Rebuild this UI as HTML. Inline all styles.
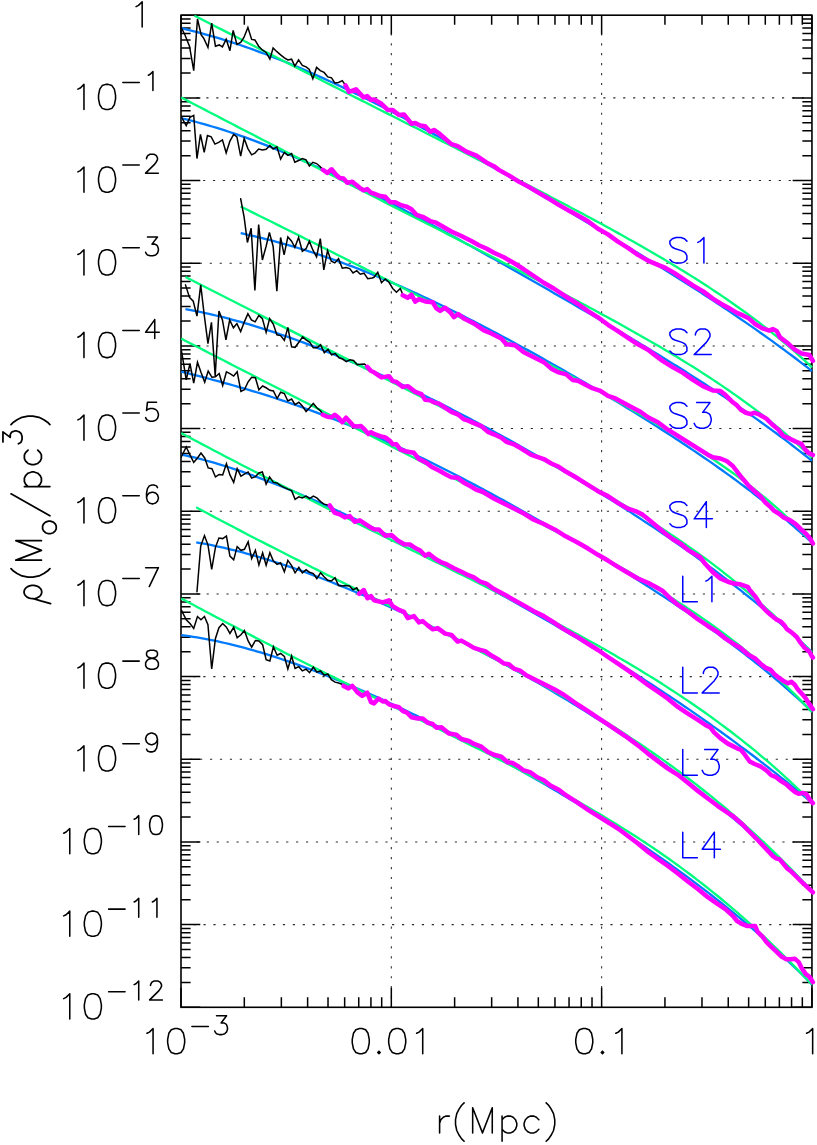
<!DOCTYPE html><html><head><meta charset="utf-8"><title>density profiles</title>
<style>html,body{margin:0;padding:0;background:#fff;font-family:"Liberation Sans",sans-serif}svg{display:block}</style></head><body>
<svg width="817" height="1145" viewBox="0 0 817 1145">
<rect width="817" height="1145" fill="#fff"/>
<path d="M196.39 97.88 H811.95M193.13 180.55 H811.95M189.86 263.22 H811.95M196.53 345.9 H811.95M193.26 428.57 H811.95M190 511.25 H811.95M196.67 593.93 H811.95M193.4 676.6 H811.95M190.14 759.27 H811.95M196.8 841.95 H811.95M193.54 924.62 H811.95M391.32 33.27 V1007.3M601.63 33.27 V1007.3" fill="none" stroke="#2a2a2a" stroke-width="1.05" stroke-dasharray="2.2 7.725"/>
<path d="M181 15.2 h19.3 M811.95 15.2 h-19.3M181 72.99 h9.6 M811.95 72.99 h-9.6M181 58.43 h9.6 M811.95 58.43 h-9.6M181 48.1 h9.6 M811.95 48.1 h-9.6M181 40.09 h9.6 M811.95 40.09 h-9.6M181 33.54 h9.6 M811.95 33.54 h-9.6M181 28.01 h9.6 M811.95 28.01 h-9.6M181 23.21 h9.6 M811.95 23.21 h-9.6M181 18.98 h9.6 M811.95 18.98 h-9.6M181 97.88 h19.3 M811.95 97.88 h-19.3M181 155.66 h9.6 M811.95 155.66 h-9.6M181 141.1 h9.6 M811.95 141.1 h-9.6M181 130.77 h9.6 M811.95 130.77 h-9.6M181 122.76 h9.6 M811.95 122.76 h-9.6M181 116.22 h9.6 M811.95 116.22 h-9.6M181 110.68 h9.6 M811.95 110.68 h-9.6M181 105.89 h9.6 M811.95 105.89 h-9.6M181 101.66 h9.6 M811.95 101.66 h-9.6M181 180.55 h19.3 M811.95 180.55 h-19.3M181 238.34 h9.6 M811.95 238.34 h-9.6M181 223.78 h9.6 M811.95 223.78 h-9.6M181 213.45 h9.6 M811.95 213.45 h-9.6M181 205.44 h9.6 M811.95 205.44 h-9.6M181 198.89 h9.6 M811.95 198.89 h-9.6M181 193.36 h9.6 M811.95 193.36 h-9.6M181 188.56 h9.6 M811.95 188.56 h-9.6M181 184.33 h9.6 M811.95 184.33 h-9.6M181 263.22 h19.3 M811.95 263.22 h-19.3M181 321.01 h9.6 M811.95 321.01 h-9.6M181 306.45 h9.6 M811.95 306.45 h-9.6M181 296.12 h9.6 M811.95 296.12 h-9.6M181 288.11 h9.6 M811.95 288.11 h-9.6M181 281.57 h9.6 M811.95 281.57 h-9.6M181 276.03 h9.6 M811.95 276.03 h-9.6M181 271.24 h9.6 M811.95 271.24 h-9.6M181 267.01 h9.6 M811.95 267.01 h-9.6M181 345.9 h19.3 M811.95 345.9 h-19.3M181 403.69 h9.6 M811.95 403.69 h-9.6M181 389.13 h9.6 M811.95 389.13 h-9.6M181 378.8 h9.6 M811.95 378.8 h-9.6M181 370.79 h9.6 M811.95 370.79 h-9.6M181 364.24 h9.6 M811.95 364.24 h-9.6M181 358.71 h9.6 M811.95 358.71 h-9.6M181 353.91 h9.6 M811.95 353.91 h-9.6M181 349.68 h9.6 M811.95 349.68 h-9.6M181 428.57 h19.3 M811.95 428.57 h-19.3M181 486.36 h9.6 M811.95 486.36 h-9.6M181 471.8 h9.6 M811.95 471.8 h-9.6M181 461.47 h9.6 M811.95 461.47 h-9.6M181 453.46 h9.6 M811.95 453.46 h-9.6M181 446.92 h9.6 M811.95 446.92 h-9.6M181 441.38 h9.6 M811.95 441.38 h-9.6M181 436.59 h9.6 M811.95 436.59 h-9.6M181 432.36 h9.6 M811.95 432.36 h-9.6M181 511.25 h19.3 M811.95 511.25 h-19.3M181 569.04 h9.6 M811.95 569.04 h-9.6M181 554.48 h9.6 M811.95 554.48 h-9.6M181 544.15 h9.6 M811.95 544.15 h-9.6M181 536.14 h9.6 M811.95 536.14 h-9.6M181 529.59 h9.6 M811.95 529.59 h-9.6M181 524.06 h9.6 M811.95 524.06 h-9.6M181 519.26 h9.6 M811.95 519.26 h-9.6M181 515.03 h9.6 M811.95 515.03 h-9.6M181 593.93 h19.3 M811.95 593.93 h-19.3M181 651.71 h9.6 M811.95 651.71 h-9.6M181 637.15 h9.6 M811.95 637.15 h-9.6M181 626.82 h9.6 M811.95 626.82 h-9.6M181 618.81 h9.6 M811.95 618.81 h-9.6M181 612.27 h9.6 M811.95 612.27 h-9.6M181 606.73 h9.6 M811.95 606.73 h-9.6M181 601.94 h9.6 M811.95 601.94 h-9.6M181 597.71 h9.6 M811.95 597.71 h-9.6M181 676.6 h19.3 M811.95 676.6 h-19.3M181 734.39 h9.6 M811.95 734.39 h-9.6M181 719.83 h9.6 M811.95 719.83 h-9.6M181 709.5 h9.6 M811.95 709.5 h-9.6M181 701.49 h9.6 M811.95 701.49 h-9.6M181 694.94 h9.6 M811.95 694.94 h-9.6M181 689.41 h9.6 M811.95 689.41 h-9.6M181 684.61 h9.6 M811.95 684.61 h-9.6M181 680.38 h9.6 M811.95 680.38 h-9.6M181 759.27 h19.3 M811.95 759.27 h-19.3M181 817.06 h9.6 M811.95 817.06 h-9.6M181 802.5 h9.6 M811.95 802.5 h-9.6M181 792.17 h9.6 M811.95 792.17 h-9.6M181 784.16 h9.6 M811.95 784.16 h-9.6M181 777.62 h9.6 M811.95 777.62 h-9.6M181 772.08 h9.6 M811.95 772.08 h-9.6M181 767.29 h9.6 M811.95 767.29 h-9.6M181 763.06 h9.6 M811.95 763.06 h-9.6M181 841.95 h19.3 M811.95 841.95 h-19.3M181 899.74 h9.6 M811.95 899.74 h-9.6M181 885.18 h9.6 M811.95 885.18 h-9.6M181 874.85 h9.6 M811.95 874.85 h-9.6M181 866.84 h9.6 M811.95 866.84 h-9.6M181 860.29 h9.6 M811.95 860.29 h-9.6M181 854.76 h9.6 M811.95 854.76 h-9.6M181 849.96 h9.6 M811.95 849.96 h-9.6M181 845.73 h9.6 M811.95 845.73 h-9.6M181 924.62 h19.3 M811.95 924.62 h-19.3M181 982.41 h9.6 M811.95 982.41 h-9.6M181 967.85 h9.6 M811.95 967.85 h-9.6M181 957.52 h9.6 M811.95 957.52 h-9.6M181 949.51 h9.6 M811.95 949.51 h-9.6M181 942.97 h9.6 M811.95 942.97 h-9.6M181 937.43 h9.6 M811.95 937.43 h-9.6M181 932.64 h9.6 M811.95 932.64 h-9.6M181 928.41 h9.6 M811.95 928.41 h-9.6M181 1007.3 h19.3 M811.95 1007.3 h-19.3M181 1007.3 v-19.6 M181 15.2 v19.4M244.31 1007.3 v-10 M244.31 15.2 v9.5M281.35 1007.3 v-10 M281.35 15.2 v9.5M307.62 1007.3 v-10 M307.62 15.2 v9.5M328.01 1007.3 v-10 M328.01 15.2 v9.5M344.66 1007.3 v-10 M344.66 15.2 v9.5M358.74 1007.3 v-10 M358.74 15.2 v9.5M370.93 1007.3 v-10 M370.93 15.2 v9.5M381.69 1007.3 v-10 M381.69 15.2 v9.5M391.32 1007.3 v-19.6 M391.32 15.2 v19.4M454.63 1007.3 v-10 M454.63 15.2 v9.5M491.66 1007.3 v-10 M491.66 15.2 v9.5M517.94 1007.3 v-10 M517.94 15.2 v9.5M538.32 1007.3 v-10 M538.32 15.2 v9.5M554.97 1007.3 v-10 M554.97 15.2 v9.5M569.05 1007.3 v-10 M569.05 15.2 v9.5M581.25 1007.3 v-10 M581.25 15.2 v9.5M592.01 1007.3 v-10 M592.01 15.2 v9.5M601.63 1007.3 v-19.6 M601.63 15.2 v19.4M664.94 1007.3 v-10 M664.94 15.2 v9.5M701.98 1007.3 v-10 M701.98 15.2 v9.5M728.26 1007.3 v-10 M728.26 15.2 v9.5M748.64 1007.3 v-10 M748.64 15.2 v9.5M765.29 1007.3 v-10 M765.29 15.2 v9.5M779.37 1007.3 v-10 M779.37 15.2 v9.5M791.57 1007.3 v-10 M791.57 15.2 v9.5M802.33 1007.3 v-10 M802.33 15.2 v9.5M811.95 1007.3 v-19.6 M811.95 15.2 v19.4" fill="none" stroke="#000" stroke-width="1.5"/>
<rect x="181" y="15.2" width="630.95" height="992.1" fill="none" stroke="#000" stroke-width="1.6"/>
<clipPath id="c"><rect x="181" y="15.2" width="634.95" height="992.1"/></clipPath>
<g clip-path="url(#c)" fill="none" stroke-linejoin="round" stroke-linecap="round">
<path d="M181.24 28.24 L185.2 29.17 L189.17 30.13 L193.14 31.12 L197.1 32.14 L201.07 33.19 L205.04 34.27 L209 35.38 L212.97 36.52 L216.94 37.69 L220.9 38.88 L224.87 40.11 L228.84 41.36 L232.8 42.63 L236.77 43.94 L240.74 45.27 L244.7 46.63 L248.67 48.01 L252.64 49.42 L256.6 50.85 L260.57 52.31 L264.54 53.79 L268.5 55.29 L272.47 56.82 L276.44 58.37 L280.4 59.95 L284.37 61.54 L288.34 63.16 L292.31 64.8 L296.27 66.46 L300.24 68.14 L304.21 69.84 L308.17 71.56 L312.14 73.3 L316.11 75.06 L320.07 76.83 L324.04 78.63 L328.01 80.44 L331.97 82.28 L335.94 84.12 L339.91 85.99 L343.87 87.87 L347.84 89.77 L351.81 91.68 L355.77 93.61 L359.74 95.55 L363.71 97.51 L367.67 99.49 L371.64 101.47 L375.61 103.47 L379.57 105.49 L383.54 107.51 L387.51 109.55 L391.47 111.6 L395.44 113.66 L399.41 115.74 L403.37 117.82 L407.34 119.92 L411.31 122.03 L415.27 124.14 L419.24 126.27 L423.21 128.41 L427.17 130.55 L431.14 132.71 L435.11 134.88 L439.08 137.05 L443.04 139.23 L447.01 141.42 L450.98 143.62 L454.94 145.82 L458.91 148.03 L462.88 150.25 L466.84 152.48 L470.81 154.71 L474.78 156.95 L478.74 159.2 L482.71 161.45 L486.68 163.7 L490.64 165.97 L494.61 168.24 L498.58 170.51 L502.54 172.79 L506.51 175.07 L510.48 177.36 L514.44 179.65 L518.41 181.95 L522.38 184.25 L526.34 186.56 L530.31 188.87 L534.28 191.19 L538.24 193.5 L542.21 195.83 L546.18 198.16 L550.14 200.49 L554.11 202.82 L558.08 205.16 L562.04 207.5 L566.01 209.85 L569.98 212.2 L573.94 214.55 L577.91 216.91 L581.88 219.27 L585.84 221.64 L589.81 224.01 L593.78 226.39 L597.75 228.76 L601.71 231.15 L605.68 233.53 L609.65 235.92 L613.61 238.32 L617.58 240.72 L621.55 243.13 L625.51 245.54 L629.48 247.95 L633.45 250.38 L637.41 252.8 L641.38 255.24 L645.35 257.68 L649.31 260.12 L653.28 262.57 L657.25 265.03 L661.21 267.5 L665.18 269.98 L669.15 272.46 L673.11 274.95 L677.08 277.45 L681.05 279.95 L685.01 282.47 L688.98 285 L692.95 287.54 L696.91 290.08 L700.88 292.64 L704.85 295.21 L708.81 297.79 L712.78 300.39 L716.75 303 L720.71 305.62 L724.68 308.25 L728.65 310.9 L732.61 313.57 L736.58 316.25 L740.55 318.94 L744.52 321.66 L748.48 324.39 L752.45 327.14 L756.42 329.9 L760.38 332.69 L764.35 335.5 L768.32 338.33 L772.28 341.18 L776.25 344.06 L780.22 346.95 L784.18 349.88 L788.15 352.82 L792.12 355.79 L796.08 358.79 L800.05 361.82 L804.02 364.88 L807.98 367.96 L811.95 371.08M181.24 118.31 L185.2 119.24 L189.17 120.21 L193.14 121.22 L197.1 122.26 L201.07 123.33 L205.04 124.44 L209 125.58 L212.97 126.75 L216.94 127.95 L220.9 129.19 L224.87 130.45 L228.84 131.74 L232.8 133.06 L236.77 134.41 L240.74 135.79 L244.7 137.2 L248.67 138.63 L252.64 140.08 L256.6 141.57 L260.57 143.07 L264.54 144.6 L268.5 146.16 L272.47 147.74 L276.44 149.34 L280.4 150.96 L284.37 152.6 L288.34 154.27 L292.31 155.96 L296.27 157.66 L300.24 159.39 L304.21 161.13 L308.17 162.89 L312.14 164.68 L316.11 166.47 L320.07 168.29 L324.04 170.12 L328.01 171.97 L331.97 173.84 L335.94 175.72 L339.91 177.61 L343.87 179.52 L347.84 181.44 L351.81 183.38 L355.77 185.33 L359.74 187.29 L363.71 189.27 L367.67 191.26 L371.64 193.26 L375.61 195.27 L379.57 197.29 L383.54 199.32 L387.51 201.36 L391.47 203.42 L395.44 205.48 L399.41 207.55 L403.37 209.63 L407.34 211.72 L411.31 213.82 L415.27 215.92 L419.24 218.04 L423.21 220.16 L427.17 222.29 L431.14 224.42 L435.11 226.56 L439.08 228.71 L443.04 230.87 L447.01 233.03 L450.98 235.19 L454.94 237.37 L458.91 239.55 L462.88 241.73 L466.84 243.92 L470.81 246.11 L474.78 248.31 L478.74 250.51 L482.71 252.72 L486.68 254.93 L490.64 257.15 L494.61 259.37 L498.58 261.59 L502.54 263.82 L506.51 266.05 L510.48 268.29 L514.44 270.53 L518.41 272.77 L522.38 275.02 L526.34 277.27 L530.31 279.53 L534.28 281.79 L538.24 284.05 L542.21 286.31 L546.18 288.58 L550.14 290.86 L554.11 293.13 L558.08 295.41 L562.04 297.7 L566.01 299.99 L569.98 302.28 L573.94 304.58 L577.91 306.88 L581.88 309.18 L585.84 311.49 L589.81 313.81 L593.78 316.13 L597.75 318.45 L601.71 320.78 L605.68 323.11 L609.65 325.46 L613.61 327.8 L617.58 330.15 L621.55 332.51 L625.51 334.88 L629.48 337.25 L633.45 339.63 L637.41 342.01 L641.38 344.41 L645.35 346.81 L649.31 349.22 L653.28 351.64 L657.25 354.06 L661.21 356.5 L665.18 358.95 L669.15 361.4 L673.11 363.87 L677.08 366.35 L681.05 368.83 L685.01 371.33 L688.98 373.85 L692.95 376.37 L696.91 378.91 L700.88 381.46 L704.85 384.03 L708.81 386.61 L712.78 389.2 L716.75 391.82 L720.71 394.44 L724.68 397.09 L728.65 399.75 L732.61 402.43 L736.58 405.13 L740.55 407.84 L744.52 410.58 L748.48 413.34 L752.45 416.12 L756.42 418.92 L760.38 421.74 L764.35 424.59 L768.32 427.46 L772.28 430.36 L776.25 433.28 L780.22 436.23 L784.18 439.2 L788.15 442.2 L792.12 445.23 L796.08 448.3 L800.05 451.39 L804.02 454.51 L807.98 457.66 L811.95 460.85M240.66 233.18 L244.25 233.96 L247.85 234.76 L251.44 235.58 L255.03 236.42 L258.63 237.28 L262.22 238.16 L265.81 239.06 L269.41 239.98 L273 240.91 L276.59 241.87 L280.18 242.85 L283.78 243.84 L287.37 244.86 L290.96 245.9 L294.56 246.95 L298.15 248.02 L301.74 249.12 L305.34 250.23 L308.93 251.36 L312.52 252.52 L316.11 253.69 L319.71 254.88 L323.3 256.08 L326.89 257.31 L330.49 258.56 L334.08 259.82 L337.67 261.1 L341.27 262.4 L344.86 263.72 L348.45 265.06 L352.04 266.41 L355.64 267.79 L359.23 269.18 L362.82 270.58 L366.42 272.01 L370.01 273.45 L373.6 274.9 L377.2 276.38 L380.79 277.87 L384.38 279.37 L387.98 280.9 L391.57 282.43 L395.16 283.99 L398.75 285.56 L402.35 287.14 L405.94 288.74 L409.53 290.35 L413.13 291.98 L416.72 293.62 L420.31 295.27 L423.91 296.94 L427.5 298.63 L431.09 300.32 L434.68 302.03 L438.28 303.75 L441.87 305.49 L445.46 307.23 L449.06 308.99 L452.65 310.76 L456.24 312.55 L459.84 314.34 L463.43 316.15 L467.02 317.96 L470.61 319.79 L474.21 321.63 L477.8 323.48 L481.39 325.34 L484.99 327.21 L488.58 329.09 L492.17 330.98 L495.77 332.87 L499.36 334.78 L502.95 336.7 L506.54 338.63 L510.14 340.56 L513.73 342.51 L517.32 344.46 L520.92 346.42 L524.51 348.39 L528.1 350.37 L531.7 352.36 L535.29 354.35 L538.88 356.35 L542.47 358.37 L546.07 360.38 L549.66 362.41 L553.25 364.44 L556.85 366.49 L560.44 368.53 L564.03 370.59 L567.63 372.66 L571.22 374.73 L574.81 376.81 L578.4 378.89 L582 380.99 L585.59 383.09 L589.18 385.2 L592.78 387.32 L596.37 389.44 L599.96 391.58 L603.56 393.72 L607.15 395.87 L610.74 398.02 L614.33 400.19 L617.93 402.36 L621.52 404.54 L625.11 406.73 L628.71 408.93 L632.3 411.14 L635.89 413.36 L639.49 415.59 L643.08 417.83 L646.67 420.08 L650.26 422.33 L653.86 424.6 L657.45 426.88 L661.04 429.17 L664.64 431.48 L668.23 433.79 L671.82 436.12 L675.42 438.46 L679.01 440.81 L682.6 443.18 L686.19 445.56 L689.79 447.95 L693.38 450.36 L696.97 452.79 L700.57 455.23 L704.16 457.69 L707.75 460.17 L711.35 462.66 L714.94 465.17 L718.53 467.7 L722.12 470.26 L725.72 472.83 L729.31 475.42 L732.9 478.03 L736.5 480.67 L740.09 483.33 L743.68 486.02 L747.28 488.72 L750.87 491.46 L754.46 494.22 L758.05 497.01 L761.65 499.83 L765.24 502.67 L768.83 505.55 L772.43 508.46 L776.02 511.4 L779.61 514.37 L783.21 517.38 L786.8 520.43 L790.39 523.51 L793.98 526.62 L797.58 529.78 L801.17 532.98 L804.76 536.22 L808.36 539.5 L811.95 542.82M185.48 309.03 L189.42 309.77 L193.36 310.54 L197.3 311.34 L201.24 312.16 L205.18 313.02 L209.12 313.9 L213.06 314.81 L217 315.75 L220.94 316.71 L224.88 317.71 L228.82 318.73 L232.76 319.77 L236.7 320.84 L240.64 321.94 L244.58 323.06 L248.52 324.21 L252.46 325.38 L256.4 326.57 L260.34 327.79 L264.28 329.03 L268.22 330.3 L272.16 331.59 L276.1 332.9 L280.04 334.23 L283.98 335.58 L287.92 336.96 L291.86 338.35 L295.8 339.77 L299.74 341.21 L303.68 342.67 L307.62 344.14 L311.56 345.64 L315.5 347.16 L319.44 348.69 L323.38 350.24 L327.32 351.81 L331.26 353.4 L335.2 355.01 L339.14 356.63 L343.08 358.27 L347.02 359.93 L350.96 361.61 L354.9 363.3 L358.84 365 L362.78 366.73 L366.72 368.47 L370.66 370.22 L374.6 371.99 L378.54 373.77 L382.48 375.57 L386.42 377.38 L390.36 379.2 L394.3 381.04 L398.24 382.9 L402.18 384.76 L406.12 386.64 L410.06 388.53 L414 390.44 L417.94 392.36 L421.88 394.29 L425.82 396.23 L429.76 398.19 L433.7 400.15 L437.64 402.13 L441.58 404.12 L445.52 406.12 L449.46 408.14 L453.4 410.16 L457.34 412.2 L461.28 414.24 L465.22 416.3 L469.16 418.37 L473.1 420.45 L477.05 422.54 L480.99 424.64 L484.93 426.75 L488.87 428.87 L492.81 431 L496.75 433.14 L500.69 435.3 L504.63 437.46 L508.57 439.63 L512.51 441.82 L516.45 444.01 L520.39 446.21 L524.33 448.43 L528.27 450.65 L532.21 452.88 L536.15 455.13 L540.09 457.39 L544.03 459.65 L547.97 461.93 L551.91 464.21 L555.85 466.51 L559.79 468.82 L563.73 471.14 L567.67 473.47 L571.61 475.81 L575.55 478.17 L579.49 480.53 L583.43 482.91 L587.37 485.3 L591.31 487.7 L595.25 490.11 L599.19 492.53 L603.13 494.97 L607.07 497.42 L611.01 499.88 L614.95 502.36 L618.89 504.85 L622.83 507.35 L626.77 509.87 L630.71 512.4 L634.65 514.95 L638.59 517.51 L642.53 520.09 L646.47 522.68 L650.41 525.29 L654.35 527.91 L658.29 530.56 L662.23 533.21 L666.17 535.89 L670.11 538.58 L674.05 541.3 L677.99 544.03 L681.93 546.78 L685.87 549.55 L689.81 552.34 L693.75 555.15 L697.69 557.98 L701.63 560.84 L705.57 563.71 L709.51 566.61 L713.45 569.53 L717.39 572.48 L721.33 575.45 L725.27 578.45 L729.21 581.47 L733.15 584.51 L737.09 587.59 L741.03 590.69 L744.97 593.82 L748.91 596.98 L752.85 600.17 L756.79 603.38 L760.73 606.63 L764.67 609.91 L768.61 613.23 L772.55 616.57 L776.49 619.96 L780.43 623.37 L784.37 626.82 L788.31 630.31 L792.25 633.84 L796.19 637.4 L800.13 641 L804.07 644.64 L808.01 648.33 L811.95 652.05M181.24 371.66 L185.2 372.65 L189.17 373.64 L193.14 374.64 L197.1 375.66 L201.07 376.68 L205.04 377.71 L209 378.75 L212.97 379.8 L216.94 380.87 L220.9 381.94 L224.87 383.03 L228.84 384.13 L232.8 385.25 L236.77 386.38 L240.74 387.52 L244.7 388.68 L248.67 389.86 L252.64 391.05 L256.6 392.25 L260.57 393.47 L264.54 394.71 L268.5 395.97 L272.47 397.24 L276.44 398.53 L280.4 399.83 L284.37 401.16 L288.34 402.5 L292.31 403.85 L296.27 405.23 L300.24 406.63 L304.21 408.04 L308.17 409.47 L312.14 410.92 L316.11 412.38 L320.07 413.87 L324.04 415.37 L328.01 416.89 L331.97 418.43 L335.94 419.99 L339.91 421.56 L343.87 423.15 L347.84 424.77 L351.81 426.39 L355.77 428.04 L359.74 429.7 L363.71 431.39 L367.67 433.08 L371.64 434.8 L375.61 436.53 L379.57 438.28 L383.54 440.05 L387.51 441.83 L391.47 443.63 L395.44 445.45 L399.41 447.28 L403.37 449.13 L407.34 450.99 L411.31 452.87 L415.27 454.76 L419.24 456.67 L423.21 458.6 L427.17 460.54 L431.14 462.49 L435.11 464.46 L439.08 466.44 L443.04 468.43 L447.01 470.44 L450.98 472.46 L454.94 474.5 L458.91 476.54 L462.88 478.6 L466.84 480.68 L470.81 482.76 L474.78 484.86 L478.74 486.97 L482.71 489.09 L486.68 491.22 L490.64 493.37 L494.61 495.52 L498.58 497.69 L502.54 499.86 L506.51 502.05 L510.48 504.25 L514.44 506.45 L518.41 508.67 L522.38 510.9 L526.34 513.14 L530.31 515.39 L534.28 517.64 L538.24 519.91 L542.21 522.18 L546.18 524.47 L550.14 526.76 L554.11 529.07 L558.08 531.38 L562.04 533.7 L566.01 536.04 L569.98 538.38 L573.94 540.73 L577.91 543.09 L581.88 545.46 L585.84 547.83 L589.81 550.22 L593.78 552.62 L597.75 555.03 L601.71 557.44 L605.68 559.87 L609.65 562.31 L613.61 564.76 L617.58 567.21 L621.55 569.68 L625.51 572.16 L629.48 574.65 L633.45 577.16 L637.41 579.67 L641.38 582.2 L645.35 584.74 L649.31 587.29 L653.28 589.86 L657.25 592.44 L661.21 595.03 L665.18 597.64 L669.15 600.26 L673.11 602.9 L677.08 605.56 L681.05 608.23 L685.01 610.92 L688.98 613.63 L692.95 616.36 L696.91 619.11 L700.88 621.88 L704.85 624.67 L708.81 627.48 L712.78 630.31 L716.75 633.17 L720.71 636.05 L724.68 638.96 L728.65 641.89 L732.61 644.85 L736.58 647.84 L740.55 650.86 L744.52 653.9 L748.48 656.98 L752.45 660.1 L756.42 663.24 L760.38 666.42 L764.35 669.64 L768.32 672.9 L772.28 676.19 L776.25 679.53 L780.22 682.9 L784.18 686.32 L788.15 689.79 L792.12 693.3 L796.08 696.86 L800.05 700.46 L804.02 704.12 L807.98 707.83 L811.95 711.6M181.24 454.53 L185.2 455.38 L189.17 456.27 L193.14 457.2 L197.1 458.18 L201.07 459.19 L205.04 460.24 L209 461.32 L212.97 462.44 L216.94 463.6 L220.9 464.79 L224.87 466.01 L228.84 467.26 L232.8 468.54 L236.77 469.85 L240.74 471.19 L244.7 472.56 L248.67 473.96 L252.64 475.38 L256.6 476.83 L260.57 478.3 L264.54 479.8 L268.5 481.32 L272.47 482.86 L276.44 484.43 L280.4 486.01 L284.37 487.62 L288.34 489.25 L292.31 490.89 L296.27 492.56 L300.24 494.24 L304.21 495.94 L308.17 497.66 L312.14 499.39 L316.11 501.14 L320.07 502.9 L324.04 504.68 L328.01 506.48 L331.97 508.29 L335.94 510.11 L339.91 511.94 L343.87 513.79 L347.84 515.65 L351.81 517.52 L355.77 519.41 L359.74 521.31 L363.71 523.21 L367.67 525.13 L371.64 527.06 L375.61 529 L379.57 530.95 L383.54 532.9 L387.51 534.87 L391.47 536.85 L395.44 538.83 L399.41 540.83 L403.37 542.83 L407.34 544.84 L411.31 546.86 L415.27 548.89 L419.24 550.93 L423.21 552.97 L427.17 555.02 L431.14 557.08 L435.11 559.15 L439.08 561.22 L443.04 563.3 L447.01 565.39 L450.98 567.49 L454.94 569.59 L458.91 571.7 L462.88 573.82 L466.84 575.94 L470.81 578.08 L474.78 580.22 L478.74 582.36 L482.71 584.52 L486.68 586.68 L490.64 588.85 L494.61 591.02 L498.58 593.21 L502.54 595.4 L506.51 597.59 L510.48 599.8 L514.44 602.01 L518.41 604.24 L522.38 606.47 L526.34 608.7 L530.31 610.95 L534.28 613.2 L538.24 615.47 L542.21 617.74 L546.18 620.02 L550.14 622.31 L554.11 624.6 L558.08 626.91 L562.04 629.23 L566.01 631.55 L569.98 633.89 L573.94 636.23 L577.91 638.59 L581.88 640.95 L585.84 643.33 L589.81 645.71 L593.78 648.11 L597.75 650.52 L601.71 652.94 L605.68 655.37 L609.65 657.81 L613.61 660.27 L617.58 662.73 L621.55 665.21 L625.51 667.7 L629.48 670.2 L633.45 672.72 L637.41 675.25 L641.38 677.79 L645.35 680.35 L649.31 682.92 L653.28 685.5 L657.25 688.1 L661.21 690.71 L665.18 693.34 L669.15 695.98 L673.11 698.64 L677.08 701.31 L681.05 704 L685.01 706.7 L688.98 709.42 L692.95 712.15 L696.91 714.91 L700.88 717.67 L704.85 720.46 L708.81 723.26 L712.78 726.08 L716.75 728.92 L720.71 731.77 L724.68 734.64 L728.65 737.53 L732.61 740.44 L736.58 743.37 L740.55 746.31 L744.52 749.27 L748.48 752.26 L752.45 755.26 L756.42 758.28 L760.38 761.32 L764.35 764.38 L768.32 767.46 L772.28 770.56 L776.25 773.68 L780.22 776.81 L784.18 779.97 L788.15 783.15 L792.12 786.35 L796.08 789.57 L800.05 792.81 L804.02 796.08 L807.98 799.36 L811.95 802.66M196.22 542.35 L200.09 543.02 L203.96 543.72 L207.83 544.45 L211.71 545.22 L215.58 546.02 L219.45 546.85 L223.32 547.71 L227.2 548.61 L231.07 549.53 L234.94 550.48 L238.82 551.47 L242.69 552.48 L246.56 553.52 L250.43 554.58 L254.31 555.68 L258.18 556.79 L262.05 557.94 L265.92 559.11 L269.8 560.3 L273.67 561.52 L277.54 562.76 L281.41 564.02 L285.29 565.3 L289.16 566.61 L293.03 567.94 L296.9 569.28 L300.78 570.65 L304.65 572.04 L308.52 573.45 L312.39 574.88 L316.27 576.32 L320.14 577.79 L324.01 579.27 L327.88 580.77 L331.76 582.29 L335.63 583.82 L339.5 585.37 L343.37 586.94 L347.25 588.52 L351.12 590.12 L354.99 591.73 L358.86 593.36 L362.74 595.01 L366.61 596.67 L370.48 598.34 L374.35 600.03 L378.23 601.73 L382.1 603.45 L385.97 605.18 L389.84 606.92 L393.72 608.68 L397.59 610.45 L401.46 612.23 L405.33 614.03 L409.21 615.83 L413.08 617.65 L416.95 619.49 L420.82 621.33 L424.7 623.19 L428.57 625.06 L432.44 626.94 L436.31 628.84 L440.19 630.75 L444.06 632.66 L447.93 634.6 L451.8 636.54 L455.68 638.49 L459.55 640.46 L463.42 642.44 L467.29 644.43 L471.17 646.43 L475.04 648.45 L478.91 650.47 L482.78 652.51 L486.66 654.56 L490.53 656.63 L494.4 658.7 L498.27 660.79 L502.15 662.89 L506.02 665 L509.89 667.13 L513.76 669.27 L517.64 671.42 L521.51 673.58 L525.38 675.76 L529.26 677.95 L533.13 680.16 L537 682.37 L540.87 684.6 L544.75 686.85 L548.62 689.11 L552.49 691.38 L556.36 693.67 L560.24 695.98 L564.11 698.29 L567.98 700.63 L571.85 702.98 L575.73 705.34 L579.6 707.72 L583.47 710.12 L587.34 712.53 L591.22 714.96 L595.09 717.41 L598.96 719.87 L602.83 722.35 L606.71 724.85 L610.58 727.36 L614.45 729.9 L618.32 732.45 L622.2 735.02 L626.07 737.61 L629.94 740.22 L633.81 742.85 L637.69 745.5 L641.56 748.17 L645.43 750.86 L649.3 753.58 L653.18 756.31 L657.05 759.06 L660.92 761.84 L664.79 764.64 L668.67 767.46 L672.54 770.31 L676.41 773.18 L680.28 776.07 L684.16 778.99 L688.03 781.93 L691.9 784.9 L695.77 787.89 L699.65 790.91 L703.52 793.96 L707.39 797.03 L711.26 800.13 L715.14 803.25 L719.01 806.41 L722.88 809.59 L726.75 812.8 L730.63 816.04 L734.5 819.31 L738.37 822.61 L742.24 825.94 L746.12 829.3 L749.99 832.69 L753.86 836.12 L757.73 839.57 L761.61 843.06 L765.48 846.58 L769.35 850.14 L773.22 853.73 L777.1 857.35 L780.97 861.01 L784.84 864.71 L788.71 868.44 L792.59 872.2 L796.46 876.01 L800.33 879.85 L804.2 883.73 L808.08 887.65 L811.95 891.6M181.24 635.13 L185.2 635.65 L189.17 636.22 L193.14 636.82 L197.1 637.47 L201.07 638.15 L205.04 638.87 L209 639.62 L212.97 640.41 L216.94 641.24 L220.9 642.1 L224.87 643 L228.84 643.93 L232.8 644.89 L236.77 645.88 L240.74 646.9 L244.7 647.96 L248.67 649.04 L252.64 650.16 L256.6 651.3 L260.57 652.47 L264.54 653.67 L268.5 654.9 L272.47 656.15 L276.44 657.43 L280.4 658.74 L284.37 660.07 L288.34 661.42 L292.31 662.8 L296.27 664.2 L300.24 665.63 L304.21 667.08 L308.17 668.55 L312.14 670.04 L316.11 671.55 L320.07 673.08 L324.04 674.64 L328.01 676.21 L331.97 677.8 L335.94 679.42 L339.91 681.05 L343.87 682.7 L347.84 684.36 L351.81 686.05 L355.77 687.75 L359.74 689.47 L363.71 691.2 L367.67 692.95 L371.64 694.72 L375.61 696.5 L379.57 698.3 L383.54 700.11 L387.51 701.94 L391.47 703.78 L395.44 705.63 L399.41 707.5 L403.37 709.38 L407.34 711.28 L411.31 713.19 L415.27 715.11 L419.24 717.05 L423.21 719 L427.17 720.96 L431.14 722.93 L435.11 724.91 L439.08 726.91 L443.04 728.92 L447.01 730.94 L450.98 732.97 L454.94 735.02 L458.91 737.07 L462.88 739.14 L466.84 741.21 L470.81 743.3 L474.78 745.4 L478.74 747.51 L482.71 749.64 L486.68 751.77 L490.64 753.91 L494.61 756.07 L498.58 758.23 L502.54 760.41 L506.51 762.6 L510.48 764.8 L514.44 767.01 L518.41 769.23 L522.38 771.47 L526.34 773.71 L530.31 775.97 L534.28 778.23 L538.24 780.51 L542.21 782.81 L546.18 785.11 L550.14 787.42 L554.11 789.75 L558.08 792.09 L562.04 794.45 L566.01 796.81 L569.98 799.19 L573.94 801.58 L577.91 803.99 L581.88 806.41 L585.84 808.84 L589.81 811.29 L593.78 813.75 L597.75 816.23 L601.71 818.73 L605.68 821.23 L609.65 823.76 L613.61 826.3 L617.58 828.85 L621.55 831.43 L625.51 834.02 L629.48 836.62 L633.45 839.25 L637.41 841.89 L641.38 844.56 L645.35 847.24 L649.31 849.94 L653.28 852.66 L657.25 855.4 L661.21 858.17 L665.18 860.95 L669.15 863.76 L673.11 866.59 L677.08 869.44 L681.05 872.31 L685.01 875.21 L688.98 878.14 L692.95 881.08 L696.91 884.06 L700.88 887.06 L704.85 890.09 L708.81 893.14 L712.78 896.22 L716.75 899.34 L720.71 902.48 L724.68 905.65 L728.65 908.85 L732.61 912.08 L736.58 915.35 L740.55 918.64 L744.52 921.97 L748.48 925.34 L752.45 928.74 L756.42 932.18 L760.38 935.65 L764.35 939.16 L768.32 942.7 L772.28 946.29 L776.25 949.92 L780.22 953.58 L784.18 957.29 L788.15 961.04 L792.12 964.83 L796.08 968.67 L800.05 972.55 L804.02 976.48 L807.98 980.45 L811.95 984.47" stroke="#007bff" stroke-width="2.3" stroke-linecap="butt"/>
<path d="M194.22 15.49 L198.1 17.47 L201.99 19.46 L205.88 21.45 L209.76 23.44 L213.65 25.42 L217.53 27.41 L221.42 29.39 L225.3 31.37 L229.19 33.36 L233.07 35.34 L236.96 37.32 L240.84 39.3 L244.73 41.28 L248.61 43.26 L252.5 45.23 L256.38 47.21 L260.27 49.19 L264.15 51.16 L268.04 53.14 L271.92 55.11 L275.81 57.08 L279.69 59.06 L283.58 61.03 L287.46 63 L291.35 64.97 L295.23 66.94 L299.12 68.91 L303 70.88 L306.89 72.85 L310.77 74.82 L314.66 76.78 L318.54 78.75 L322.43 80.72 L326.31 82.68 L330.2 84.65 L334.08 86.61 L337.97 88.58 L341.85 90.54 L345.74 92.51 L349.62 94.47 L353.51 96.44 L357.39 98.4 L361.28 100.36 L365.16 102.32 L369.05 104.29 L372.93 106.25 L376.82 108.21 L380.7 110.17 L384.59 112.14 L388.47 114.1 L392.36 116.06 L396.24 118.02 L400.13 119.99 L404.01 121.95 L407.9 123.91 L411.79 125.88 L415.67 127.84 L419.56 129.81 L423.44 131.77 L427.33 133.74 L431.21 135.7 L435.1 137.67 L438.98 139.63 L442.87 141.6 L446.75 143.57 L450.64 145.54 L454.52 147.51 L458.41 149.48 L462.29 151.46 L466.18 153.43 L470.06 155.41 L473.95 157.38 L477.83 159.36 L481.72 161.34 L485.6 163.32 L489.49 165.31 L493.37 167.29 L497.26 169.28 L501.14 171.27 L505.03 173.26 L508.91 175.26 L512.8 177.26 L516.68 179.26 L520.57 181.26 L524.45 183.27 L528.34 185.27 L532.22 187.29 L536.11 189.3 L539.99 191.32 L543.88 193.35 L547.76 195.38 L551.65 197.41 L555.53 199.45 L559.42 201.49 L563.3 203.54 L567.19 205.59 L571.07 207.65 L574.96 209.71 L578.84 211.78 L582.73 213.86 L586.61 215.94 L590.5 218.03 L594.38 220.13 L598.27 222.23 L602.15 224.35 L606.04 226.47 L609.93 228.6 L613.81 230.74 L617.7 232.88 L621.58 235.04 L625.47 237.21 L629.35 239.39 L633.24 241.58 L637.12 243.78 L641.01 246 L644.89 248.22 L648.78 250.46 L652.66 252.72 L656.55 254.98 L660.43 257.27 L664.32 259.56 L668.2 261.88 L672.09 264.21 L675.97 266.56 L679.86 268.93 L683.74 271.31 L687.63 273.72 L691.51 276.15 L695.4 278.59 L699.28 281.06 L703.17 283.56 L707.05 286.07 L710.94 288.61 L714.82 291.18 L718.71 293.78 L722.59 296.4 L726.48 299.05 L730.36 301.73 L734.25 304.44 L738.13 307.19 L742.02 309.96 L745.9 312.78 L749.79 315.62 L753.67 318.51 L757.56 321.43 L761.44 324.4 L765.33 327.41 L769.21 330.45 L773.1 333.55 L776.98 336.69 L780.87 339.87 L784.75 343.11 L788.64 346.4 L792.52 349.74 L796.41 353.13 L800.29 356.58 L804.18 360.09 L808.06 363.66 L811.95 367.29M181.24 97.48 L185.2 99.55 L189.17 101.62 L193.14 103.69 L197.1 105.76 L201.07 107.83 L205.04 109.89 L209 111.95 L212.97 114.02 L216.94 116.08 L220.9 118.14 L224.87 120.2 L228.84 122.25 L232.8 124.31 L236.77 126.37 L240.74 128.42 L244.7 130.47 L248.67 132.52 L252.64 134.57 L256.6 136.62 L260.57 138.67 L264.54 140.71 L268.5 142.76 L272.47 144.8 L276.44 146.84 L280.4 148.88 L284.37 150.92 L288.34 152.96 L292.31 155 L296.27 157.04 L300.24 159.07 L304.21 161.11 L308.17 163.14 L312.14 165.17 L316.11 167.2 L320.07 169.24 L324.04 171.26 L328.01 173.29 L331.97 175.32 L335.94 177.35 L339.91 179.37 L343.87 181.4 L347.84 183.42 L351.81 185.44 L355.77 187.47 L359.74 189.49 L363.71 191.51 L367.67 193.53 L371.64 195.55 L375.61 197.57 L379.57 199.59 L383.54 201.6 L387.51 203.62 L391.47 205.64 L395.44 207.65 L399.41 209.67 L403.37 211.69 L407.34 213.7 L411.31 215.72 L415.27 217.73 L419.24 219.75 L423.21 221.76 L427.17 223.78 L431.14 225.79 L435.11 227.81 L439.08 229.82 L443.04 231.84 L447.01 233.85 L450.98 235.87 L454.94 237.89 L458.91 239.91 L462.88 241.93 L466.84 243.94 L470.81 245.96 L474.78 247.99 L478.74 250.01 L482.71 252.03 L486.68 254.06 L490.64 256.08 L494.61 258.11 L498.58 260.14 L502.54 262.17 L506.51 264.21 L510.48 266.24 L514.44 268.28 L518.41 270.32 L522.38 272.37 L526.34 274.41 L530.31 276.46 L534.28 278.52 L538.24 280.57 L542.21 282.63 L546.18 284.7 L550.14 286.76 L554.11 288.84 L558.08 290.91 L562.04 292.99 L566.01 295.08 L569.98 297.17 L573.94 299.27 L577.91 301.37 L581.88 303.48 L585.84 305.6 L589.81 307.72 L593.78 309.85 L597.75 311.99 L601.71 314.14 L605.68 316.29 L609.65 318.45 L613.61 320.63 L617.58 322.81 L621.55 325 L625.51 327.2 L629.48 329.42 L633.45 331.64 L637.41 333.88 L641.38 336.13 L645.35 338.39 L649.31 340.67 L653.28 342.96 L657.25 345.27 L661.21 347.59 L665.18 349.93 L669.15 352.29 L673.11 354.67 L677.08 357.06 L681.05 359.47 L685.01 361.91 L688.98 364.36 L692.95 366.84 L696.91 369.34 L700.88 371.87 L704.85 374.42 L708.81 377 L712.78 379.6 L716.75 382.24 L720.71 384.9 L724.68 387.59 L728.65 390.32 L732.61 393.08 L736.58 395.87 L740.55 398.7 L744.52 401.57 L748.48 404.47 L752.45 407.42 L756.42 410.41 L760.38 413.44 L764.35 416.52 L768.32 419.64 L772.28 422.82 L776.25 426.04 L780.22 429.32 L784.18 432.65 L788.15 436.03 L792.12 439.48 L796.08 442.98 L800.05 446.55 L804.02 450.18 L807.98 453.87 L811.95 457.64M240.66 206.54 L244.25 208.31 L247.85 210.09 L251.44 211.87 L255.03 213.64 L258.63 215.42 L262.22 217.21 L265.81 218.99 L269.41 220.77 L273 222.56 L276.59 224.35 L280.18 226.13 L283.78 227.92 L287.37 229.71 L290.96 231.51 L294.56 233.3 L298.15 235.09 L301.74 236.89 L305.34 238.69 L308.93 240.49 L312.52 242.29 L316.11 244.09 L319.71 245.89 L323.3 247.69 L326.89 249.5 L330.49 251.31 L334.08 253.12 L337.67 254.92 L341.27 256.74 L344.86 258.55 L348.45 260.36 L352.04 262.18 L355.64 263.99 L359.23 265.81 L362.82 267.63 L366.42 269.45 L370.01 271.27 L373.6 273.1 L377.2 274.92 L380.79 276.75 L384.38 278.57 L387.98 280.4 L391.57 282.23 L395.16 284.07 L398.75 285.9 L402.35 287.73 L405.94 289.57 L409.53 291.41 L413.13 293.25 L416.72 295.09 L420.31 296.93 L423.91 298.78 L427.5 300.62 L431.09 302.47 L434.68 304.32 L438.28 306.17 L441.87 308.02 L445.46 309.87 L449.06 311.73 L452.65 313.59 L456.24 315.45 L459.84 317.31 L463.43 319.17 L467.02 321.03 L470.61 322.9 L474.21 324.77 L477.8 326.64 L481.39 328.51 L484.99 330.38 L488.58 332.26 L492.17 334.14 L495.77 336.02 L499.36 337.9 L502.95 339.78 L506.54 341.67 L510.14 343.56 L513.73 345.45 L517.32 347.34 L520.92 349.24 L524.51 351.14 L528.1 353.04 L531.7 354.95 L535.29 356.85 L538.88 358.76 L542.47 360.68 L546.07 362.59 L549.66 364.51 L553.25 366.43 L556.85 368.36 L560.44 370.29 L564.03 372.22 L567.63 374.16 L571.22 376.1 L574.81 378.05 L578.4 380 L582 381.95 L585.59 383.91 L589.18 385.88 L592.78 387.84 L596.37 389.82 L599.96 391.8 L603.56 393.78 L607.15 395.78 L610.74 397.78 L614.33 399.78 L617.93 401.79 L621.52 403.81 L625.11 405.84 L628.71 407.87 L632.3 409.92 L635.89 411.97 L639.49 414.03 L643.08 416.1 L646.67 418.18 L650.26 420.27 L653.86 422.37 L657.45 424.49 L661.04 426.62 L664.64 428.76 L668.23 430.91 L671.82 433.08 L675.42 435.26 L679.01 437.46 L682.6 439.68 L686.19 441.91 L689.79 444.16 L693.38 446.43 L696.97 448.73 L700.57 451.04 L704.16 453.37 L707.75 455.73 L711.35 458.12 L714.94 460.53 L718.53 462.97 L722.12 465.44 L725.72 467.94 L729.31 470.47 L732.9 473.04 L736.5 475.64 L740.09 478.28 L743.68 480.96 L747.28 483.68 L750.87 486.44 L754.46 489.25 L758.05 492.11 L761.65 495.02 L765.24 497.98 L768.83 501 L772.43 504.08 L776.02 507.22 L779.61 510.42 L783.21 513.69 L786.8 517.03 L790.39 520.44 L793.98 523.93 L797.58 527.51 L801.17 531.16 L804.76 534.9 L808.36 538.74 L811.95 542.67M185.48 277.04 L189.42 279.04 L193.36 281.05 L197.3 283.05 L201.24 285.05 L205.18 287.06 L209.12 289.06 L213.06 291.07 L217 293.07 L220.94 295.07 L224.88 297.08 L228.82 299.08 L232.76 301.08 L236.7 303.09 L240.64 305.09 L244.58 307.09 L248.52 309.09 L252.46 311.09 L256.4 313.1 L260.34 315.1 L264.28 317.1 L268.22 319.1 L272.16 321.1 L276.1 323.1 L280.04 325.1 L283.98 327.1 L287.92 329.1 L291.86 331.1 L295.8 333.11 L299.74 335.11 L303.68 337.11 L307.62 339.11 L311.56 341.11 L315.5 343.11 L319.44 345.11 L323.38 347.11 L327.32 349.11 L331.26 351.11 L335.2 353.11 L339.14 355.11 L343.08 357.11 L347.02 359.11 L350.96 361.11 L354.9 363.11 L358.84 365.11 L362.78 367.11 L366.72 369.11 L370.66 371.12 L374.6 373.12 L378.54 375.12 L382.48 377.12 L386.42 379.13 L390.36 381.13 L394.3 383.13 L398.24 385.14 L402.18 387.14 L406.12 389.15 L410.06 391.15 L414 393.16 L417.94 395.17 L421.88 397.18 L425.82 399.19 L429.76 401.2 L433.7 403.21 L437.64 405.22 L441.58 407.24 L445.52 409.25 L449.46 411.27 L453.4 413.29 L457.34 415.31 L461.28 417.33 L465.22 419.35 L469.16 421.38 L473.1 423.41 L477.05 425.44 L480.99 427.47 L484.93 429.5 L488.87 431.54 L492.81 433.58 L496.75 435.62 L500.69 437.67 L504.63 439.72 L508.57 441.77 L512.51 443.83 L516.45 445.89 L520.39 447.96 L524.33 450.03 L528.27 452.1 L532.21 454.18 L536.15 456.27 L540.09 458.36 L544.03 460.46 L547.97 462.56 L551.91 464.67 L555.85 466.79 L559.79 468.92 L563.73 471.05 L567.67 473.19 L571.61 475.35 L575.55 477.51 L579.49 479.68 L583.43 481.86 L587.37 484.05 L591.31 486.26 L595.25 488.47 L599.19 490.7 L603.13 492.95 L607.07 495.2 L611.01 497.48 L614.95 499.76 L618.89 502.07 L622.83 504.39 L626.77 506.73 L630.71 509.09 L634.65 511.47 L638.59 513.87 L642.53 516.29 L646.47 518.73 L650.41 521.2 L654.35 523.69 L658.29 526.21 L662.23 528.75 L666.17 531.32 L670.11 533.92 L674.05 536.54 L677.99 539.2 L681.93 541.89 L685.87 544.61 L689.81 547.36 L693.75 550.15 L697.69 552.97 L701.63 555.83 L705.57 558.73 L709.51 561.66 L713.45 564.63 L717.39 567.64 L721.33 570.69 L725.27 573.78 L729.21 576.92 L733.15 580.09 L737.09 583.31 L741.03 586.56 L744.97 589.86 L748.91 593.21 L752.85 596.6 L756.79 600.03 L760.73 603.5 L764.67 607.02 L768.61 610.58 L772.55 614.19 L776.49 617.84 L780.43 621.53 L784.37 625.26 L788.31 629.04 L792.25 632.86 L796.19 636.71 L800.13 640.61 L804.07 644.55 L808.01 648.53 L811.95 652.54M181.24 338.63 L185.2 340.67 L189.17 342.71 L193.14 344.76 L197.1 346.8 L201.07 348.84 L205.04 350.88 L209 352.92 L212.97 354.96 L216.94 357 L220.9 359.04 L224.87 361.08 L228.84 363.12 L232.8 365.16 L236.77 367.19 L240.74 369.23 L244.7 371.27 L248.67 373.3 L252.64 375.34 L256.6 377.37 L260.57 379.41 L264.54 381.44 L268.5 383.47 L272.47 385.51 L276.44 387.54 L280.4 389.57 L284.37 391.6 L288.34 393.64 L292.31 395.67 L296.27 397.7 L300.24 399.73 L304.21 401.76 L308.17 403.79 L312.14 405.82 L316.11 407.85 L320.07 409.88 L324.04 411.91 L328.01 413.93 L331.97 415.96 L335.94 417.99 L339.91 420.02 L343.87 422.05 L347.84 424.07 L351.81 426.1 L355.77 428.13 L359.74 430.16 L363.71 432.18 L367.67 434.21 L371.64 436.24 L375.61 438.27 L379.57 440.29 L383.54 442.32 L387.51 444.35 L391.47 446.38 L395.44 448.41 L399.41 450.44 L403.37 452.46 L407.34 454.49 L411.31 456.52 L415.27 458.55 L419.24 460.58 L423.21 462.61 L427.17 464.65 L431.14 466.68 L435.11 468.71 L439.08 470.75 L443.04 472.78 L447.01 474.82 L450.98 476.86 L454.94 478.89 L458.91 480.93 L462.88 482.97 L466.84 485.02 L470.81 487.06 L474.78 489.11 L478.74 491.15 L482.71 493.2 L486.68 495.25 L490.64 497.31 L494.61 499.36 L498.58 501.42 L502.54 503.48 L506.51 505.55 L510.48 507.61 L514.44 509.68 L518.41 511.76 L522.38 513.83 L526.34 515.92 L530.31 518 L534.28 520.09 L538.24 522.18 L542.21 524.28 L546.18 526.38 L550.14 528.49 L554.11 530.6 L558.08 532.72 L562.04 534.85 L566.01 536.98 L569.98 539.12 L573.94 541.27 L577.91 543.42 L581.88 545.58 L585.84 547.75 L589.81 549.93 L593.78 552.12 L597.75 554.32 L601.71 556.53 L605.68 558.75 L609.65 560.98 L613.61 563.23 L617.58 565.48 L621.55 567.75 L625.51 570.04 L629.48 572.33 L633.45 574.65 L637.41 576.98 L641.38 579.32 L645.35 581.69 L649.31 584.07 L653.28 586.47 L657.25 588.9 L661.21 591.34 L665.18 593.81 L669.15 596.3 L673.11 598.81 L677.08 601.35 L681.05 603.91 L685.01 606.5 L688.98 609.13 L692.95 611.78 L696.91 614.46 L700.88 617.17 L704.85 619.92 L708.81 622.71 L712.78 625.53 L716.75 628.38 L720.71 631.28 L724.68 634.22 L728.65 637.19 L732.61 640.22 L736.58 643.28 L740.55 646.4 L744.52 649.56 L748.48 652.77 L752.45 656.03 L756.42 659.35 L760.38 662.71 L764.35 666.14 L768.32 669.62 L772.28 673.16 L776.25 676.76 L780.22 680.42 L784.18 684.14 L788.15 687.92 L792.12 691.78 L796.08 695.69 L800.05 699.68 L804.02 703.73 L807.98 707.86 L811.95 712.05M181.24 433.09 L185.2 435.21 L189.17 437.32 L193.14 439.43 L197.1 441.54 L201.07 443.64 L205.04 445.73 L209 447.83 L212.97 449.91 L216.94 452 L220.9 454.07 L224.87 456.15 L228.84 458.22 L232.8 460.28 L236.77 462.34 L240.74 464.4 L244.7 466.45 L248.67 468.5 L252.64 470.54 L256.6 472.58 L260.57 474.62 L264.54 476.65 L268.5 478.68 L272.47 480.71 L276.44 482.73 L280.4 484.74 L284.37 486.76 L288.34 488.77 L292.31 490.78 L296.27 492.78 L300.24 494.78 L304.21 496.78 L308.17 498.77 L312.14 500.77 L316.11 502.75 L320.07 504.74 L324.04 506.72 L328.01 508.7 L331.97 510.68 L335.94 512.66 L339.91 514.63 L343.87 516.6 L347.84 518.57 L351.81 520.54 L355.77 522.5 L359.74 524.47 L363.71 526.43 L367.67 528.39 L371.64 530.35 L375.61 532.3 L379.57 534.26 L383.54 536.21 L387.51 538.17 L391.47 540.12 L395.44 542.07 L399.41 544.03 L403.37 545.98 L407.34 547.93 L411.31 549.88 L415.27 551.83 L419.24 553.79 L423.21 555.74 L427.17 557.69 L431.14 559.65 L435.11 561.6 L439.08 563.56 L443.04 565.51 L447.01 567.47 L450.98 569.44 L454.94 571.4 L458.91 573.36 L462.88 575.33 L466.84 577.3 L470.81 579.27 L474.78 581.25 L478.74 583.23 L482.71 585.21 L486.68 587.2 L490.64 589.19 L494.61 591.18 L498.58 593.18 L502.54 595.19 L506.51 597.2 L510.48 599.21 L514.44 601.23 L518.41 603.26 L522.38 605.29 L526.34 607.33 L530.31 609.38 L534.28 611.43 L538.24 613.49 L542.21 615.56 L546.18 617.64 L550.14 619.72 L554.11 621.82 L558.08 623.92 L562.04 626.04 L566.01 628.16 L569.98 630.29 L573.94 632.44 L577.91 634.6 L581.88 636.76 L585.84 638.94 L589.81 641.14 L593.78 643.34 L597.75 645.56 L601.71 647.8 L605.68 650.04 L609.65 652.31 L613.61 654.59 L617.58 656.88 L621.55 659.19 L625.51 661.52 L629.48 663.86 L633.45 666.23 L637.41 668.61 L641.38 671.01 L645.35 673.43 L649.31 675.87 L653.28 678.34 L657.25 680.82 L661.21 683.33 L665.18 685.86 L669.15 688.41 L673.11 690.98 L677.08 693.59 L681.05 696.21 L685.01 698.87 L688.98 701.55 L692.95 704.25 L696.91 706.99 L700.88 709.76 L704.85 712.55 L708.81 715.38 L712.78 718.23 L716.75 721.12 L720.71 724.05 L724.68 727 L728.65 729.99 L732.61 733.02 L736.58 736.08 L740.55 739.18 L744.52 742.32 L748.48 745.49 L752.45 748.71 L756.42 751.97 L760.38 755.27 L764.35 758.61 L768.32 761.99 L772.28 765.42 L776.25 768.89 L780.22 772.41 L784.18 775.98 L788.15 779.6 L792.12 783.26 L796.08 786.97 L800.05 790.74 L804.02 794.56 L807.98 798.43 L811.95 802.35M196.22 507.35 L200.09 509.42 L203.96 511.5 L207.83 513.56 L211.71 515.62 L215.58 517.67 L219.45 519.72 L223.32 521.76 L227.2 523.8 L231.07 525.83 L234.94 527.85 L238.82 529.87 L242.69 531.89 L246.56 533.9 L250.43 535.9 L254.31 537.9 L258.18 539.9 L262.05 541.89 L265.92 543.88 L269.8 545.86 L273.67 547.84 L277.54 549.81 L281.41 551.78 L285.29 553.75 L289.16 555.71 L293.03 557.67 L296.9 559.62 L300.78 561.58 L304.65 563.53 L308.52 565.47 L312.39 567.41 L316.27 569.36 L320.14 571.29 L324.01 573.23 L327.88 575.16 L331.76 577.09 L335.63 579.02 L339.5 580.95 L343.37 582.87 L347.25 584.8 L351.12 586.72 L354.99 588.64 L358.86 590.56 L362.74 592.48 L366.61 594.4 L370.48 596.32 L374.35 598.24 L378.23 600.15 L382.1 602.07 L385.97 603.99 L389.84 605.91 L393.72 607.83 L397.59 609.75 L401.46 611.68 L405.33 613.6 L409.21 615.53 L413.08 617.45 L416.95 619.38 L420.82 621.31 L424.7 623.25 L428.57 625.19 L432.44 627.13 L436.31 629.07 L440.19 631.02 L444.06 632.97 L447.93 634.92 L451.8 636.88 L455.68 638.85 L459.55 640.82 L463.42 642.79 L467.29 644.77 L471.17 646.76 L475.04 648.75 L478.91 650.75 L482.78 652.75 L486.66 654.76 L490.53 656.78 L494.4 658.81 L498.27 660.84 L502.15 662.88 L506.02 664.93 L509.89 666.99 L513.76 669.06 L517.64 671.14 L521.51 673.23 L525.38 675.33 L529.26 677.44 L533.13 679.56 L537 681.69 L540.87 683.84 L544.75 685.99 L548.62 688.16 L552.49 690.34 L556.36 692.54 L560.24 694.74 L564.11 696.97 L567.98 699.2 L571.85 701.46 L575.73 703.72 L579.6 706.01 L583.47 708.31 L587.34 710.62 L591.22 712.96 L595.09 715.31 L598.96 717.68 L602.83 720.06 L606.71 722.47 L610.58 724.9 L614.45 727.34 L618.32 729.81 L622.2 732.3 L626.07 734.8 L629.94 737.34 L633.81 739.89 L637.69 742.46 L641.56 745.06 L645.43 747.69 L649.3 750.33 L653.18 753.01 L657.05 755.7 L660.92 758.43 L664.79 761.18 L668.67 763.96 L672.54 766.76 L676.41 769.59 L680.28 772.46 L684.16 775.35 L688.03 778.27 L691.9 781.22 L695.77 784.2 L699.65 787.22 L703.52 790.27 L707.39 793.35 L711.26 796.46 L715.14 799.6 L719.01 802.79 L722.88 806 L726.75 809.25 L730.63 812.54 L734.5 815.87 L738.37 819.23 L742.24 822.63 L746.12 826.07 L749.99 829.55 L753.86 833.07 L757.73 836.63 L761.61 840.23 L765.48 843.87 L769.35 847.56 L773.22 851.29 L777.1 855.06 L780.97 858.87 L784.84 862.73 L788.71 866.64 L792.59 870.59 L796.46 874.59 L800.33 878.63 L804.2 882.73 L808.08 886.87 L811.95 891.06M181.24 598.47 L185.2 600.6 L189.17 602.73 L193.14 604.85 L197.1 606.97 L201.07 609.08 L205.04 611.19 L209 613.29 L212.97 615.39 L216.94 617.48 L220.9 619.57 L224.87 621.66 L228.84 623.74 L232.8 625.81 L236.77 627.88 L240.74 629.95 L244.7 632.01 L248.67 634.07 L252.64 636.13 L256.6 638.17 L260.57 640.22 L264.54 642.26 L268.5 644.3 L272.47 646.33 L276.44 648.36 L280.4 650.39 L284.37 652.41 L288.34 654.43 L292.31 656.44 L296.27 658.45 L300.24 660.46 L304.21 662.46 L308.17 664.47 L312.14 666.46 L316.11 668.46 L320.07 670.45 L324.04 672.44 L328.01 674.42 L331.97 676.4 L335.94 678.38 L339.91 680.36 L343.87 682.33 L347.84 684.31 L351.81 686.28 L355.77 688.24 L359.74 690.21 L363.71 692.17 L367.67 694.14 L371.64 696.1 L375.61 698.06 L379.57 700.01 L383.54 701.97 L387.51 703.93 L391.47 705.88 L395.44 707.84 L399.41 709.79 L403.37 711.74 L407.34 713.7 L411.31 715.65 L415.27 717.6 L419.24 719.56 L423.21 721.51 L427.17 723.47 L431.14 725.42 L435.11 727.38 L439.08 729.34 L443.04 731.3 L447.01 733.27 L450.98 735.23 L454.94 737.2 L458.91 739.17 L462.88 741.15 L466.84 743.13 L470.81 745.11 L474.78 747.1 L478.74 749.09 L482.71 751.09 L486.68 753.09 L490.64 755.09 L494.61 757.11 L498.58 759.13 L502.54 761.15 L506.51 763.19 L510.48 765.23 L514.44 767.28 L518.41 769.33 L522.38 771.4 L526.34 773.47 L530.31 775.56 L534.28 777.66 L538.24 779.76 L542.21 781.88 L546.18 784.01 L550.14 786.15 L554.11 788.3 L558.08 790.47 L562.04 792.65 L566.01 794.85 L569.98 797.06 L573.94 799.29 L577.91 801.53 L581.88 803.79 L585.84 806.07 L589.81 808.36 L593.78 810.67 L597.75 813.01 L601.71 815.36 L605.68 817.73 L609.65 820.13 L613.61 822.55 L617.58 824.98 L621.55 827.45 L625.51 829.93 L629.48 832.45 L633.45 834.98 L637.41 837.54 L641.38 840.13 L645.35 842.75 L649.31 845.39 L653.28 848.07 L657.25 850.77 L661.21 853.5 L665.18 856.27 L669.15 859.06 L673.11 861.89 L677.08 864.75 L681.05 867.64 L685.01 870.56 L688.98 873.52 L692.95 876.52 L696.91 879.55 L700.88 882.62 L704.85 885.72 L708.81 888.86 L712.78 892.04 L716.75 895.26 L720.71 898.51 L724.68 901.8 L728.65 905.14 L732.61 908.51 L736.58 911.92 L740.55 915.37 L744.52 918.87 L748.48 922.4 L752.45 925.97 L756.42 929.59 L760.38 933.25 L764.35 936.94 L768.32 940.68 L772.28 944.47 L776.25 948.29 L780.22 952.15 L784.18 956.06 L788.15 960.01 L792.12 963.99 L796.08 968.02 L800.05 972.09 L804.02 976.2 L807.98 980.35 L811.95 984.55" stroke="#00fd7e" stroke-width="2.3" stroke-linecap="butt"/>
<path d="M181.24 27.47 L184.98 34.96 L189.48 46.19 L193.72 70.66 L197.47 18.98 L201.21 34.96 L203.71 38.2 L207.95 47.44 L211.7 23.22 L215.44 46.19 L219.19 44.94 L222.43 46.94 L226.18 39.2 L229.93 50.69 L233.17 30.46 L236.92 44.44 L240.66 42.45 L243.91 37.45 L247.9 27.47 L251.65 39.45 L254.89 39.95 L258.64 46.19 L262.38 49.94 L266.13 52.43 L269.88 59.18 L273.12 47.94 L276.87 51.69 L280.61 54.93 L284.36 57.93 L287.85 59.93 L291.6 59.18 L294.84 66.17 L298.59 59.93 L302.33 65.42 L306.08 66.92 L309.33 69.41 L312.82 78.65 L316.57 67.42 L320.31 70.66 L324.06 72.41 L327.8 76.9 L331.55 77.9 L334.79 82.9 L338.54 82.4 L342.28 80.65 L345.53 85.39M181.24 116.85 L186.23 125.59 L189.98 117.35 L193.72 115.36 L196.97 158.55 L200.46 134.33 L204.21 152.31 L207.45 135.58 L211.2 136.83 L214.94 144.07 L218.69 142.32 L222.43 139.83 L226.18 152.81 L229.93 141.07 L233.67 134.33 L236.92 136.83 L240.66 156.05 L244.16 138.58 L247.9 148.56 L251.65 154.81 L254.89 153.06 L258.64 149.06 L262.38 150.06 L266.13 149.31 L269.88 145.57 L273.12 149.06 L276.87 146.82 L280.61 159.05 L284.36 152.31 L287.85 155.31 L291.6 153.56 L294.84 162.3 L298.59 160.55 L302.33 158.55 L306.08 159.8 L309.33 166.04 L312.82 162.3 L316.57 163.55 L320.31 166.79 L322.81 169.79M240.66 198.75 L244.16 217.48 L247.4 242.45 L251.15 228.21 L254.89 290.39 L258.64 224.47 L262.38 259.93 L266.13 246.19 L269.38 232.46 L273.12 246.19 L276.87 291.14 L280.61 237.45 L284.11 254.93 L287.85 236.95 L291.6 241.2 L294.84 247.44 L298.59 237.45 L302.33 251.19 L306.08 248.69 L309.33 241.2 L312.82 249.94 L316.57 256.93 L320.31 238.7 L323.81 269.91 L327.55 250.69 L331.3 261.17 L334.79 262.92 L338.54 258.68 L342.28 268.16 L346.03 267.42 L349.78 268.66 L353.02 272.91 L356.77 270.66 L360.26 274.16 L364.01 273.16 L367.75 278.65 L372.25 277.9 L374 277.25 L377.75 272.26 L381.49 282.75 L385.24 279 L388.98 282.25 L392.73 288.49 L396.47 292.23 L400.22 288.49 L402.71 294.23M185.48 284.89 L189.48 297.38 L193.22 301.12 L196.97 316.1 L200.71 284.89 L204.21 314.86 L207.95 343.57 L211.45 322.35 L215.19 376.03 L218.94 311.11 L222.43 319.85 L225.93 339.83 L229.68 319.85 L233.42 327.84 L236.92 323.6 L240.66 331.59 L244.16 322.35 L247.9 313.61 L251.4 319.85 L255.14 321.85 L258.89 315.36 L262.38 318.6 L266.13 332.33 L269.63 318.6 L273.37 324.34 L276.87 334.83 L280.61 335.58 L284.36 340.32 L287.85 327.34 L291.6 346.82 L295.09 347.32 L298.84 342.32 L302.58 336.83 L306.08 339.83 L309.83 342.32 L313.32 347.82 L317.07 347.82 L320.56 344.82 L324.31 352.81 L328.05 349.31 L331.55 354.81 L335.29 353.56 L339.04 357.8 L342.53 359.05 L346.28 361.55 L349.78 359.8 L353.52 360.55 L357.27 364.79 L360.76 364.29 L364.51 364.04 L367.25 366.79M181.24 349.81 L182.98 359.8 L186.23 379.78 L189.98 363.55 L193.72 383.02 L197.47 362.3 L200.96 372.28 L204.71 382.27 L208.2 371.04 L211.95 377.28 L215.44 376.78 L219.19 373.53 L222.68 385.52 L226.43 371.79 L229.93 373.53 L233.67 376.03 L237.17 371.79 L240.91 391.51 L244.41 389.76 L248.15 381.77 L251.65 377.28 L255.39 377.78 L258.89 389.76 L262.63 386.02 L266.13 387.77 L269.88 390.26 L273.37 391.01 L277.12 398.5 L280.61 392.26 L284.36 393.51 L287.85 401 L291.6 399 L295.09 404.74 L298.84 402.25 L302.33 405.99 L306.08 411.49 L309.58 407.74 L313.32 403.5 L316.82 407.74 L320.56 410.99 L322.81 413.98M181.24 456.95 L186.23 446.97 L189.98 454.96 L193.72 462.45 L197.47 457.95 L200.96 452.96 L204.71 457.95 L208.2 467.94 L211.95 468.69 L215.44 476.93 L219.19 474.43 L222.68 474.93 L226.43 463.7 L229.93 474.93 L233.67 482.42 L237.17 468.69 L240.91 476.18 L244.41 474.18 L248.15 471.94 L251.65 478.18 L255.39 476.68 L258.89 472.93 L262.38 471.94 L266.13 484.17 L269.63 476.93 L273.37 482.42 L276.87 482.92 L280.61 485.67 L284.11 487.42 L287.85 489.16 L291.6 490.66 L295.09 499.4 L298.84 496.9 L302.33 497.9 L306.08 496.15 L309.58 498.65 L313.32 496.15 L316.82 497.9 L320.56 501.65 L324.06 504.14 L327.8 504.89 L329.8 505.39M196.97 591.79 L200.71 546.09 L204.46 535.61 L207.95 544.84 L211.7 569.31 L215.44 547.34 L218.94 538.1 L222.68 538.6 L226.43 536.1 L229.93 556.08 L233.67 559.83 L237.17 546.59 L240.91 550.34 L244.41 549.34 L248.15 541.85 L251.65 558.58 L255.39 550.34 L258.89 564.82 L262.63 552.83 L266.13 565.32 L269.88 552.83 L273.37 561.07 L277.12 564.32 L280.61 562.82 L284.36 571.81 L287.85 560.32 L291.6 565.57 L295.09 572.81 L298.84 567.32 L302.33 572.81 L306.08 569.81 L309.58 572.31 L313.32 573.56 L316.82 578.55 L320.56 572.81 L324.06 576.8 L327.8 580.3 L331.3 581.05 L335.04 577.8 L338.54 585.54 L342.28 586.04 L345.78 585.54 L349.53 586.04 L353.02 589.79 L356.77 587.79 L359.26 592.28M181.24 609.76 L186.23 619.75 L189.98 623.5 L193.72 628.49 L197.47 616.5 L200.96 619.75 L204.46 616.5 L207.95 624.74 L211.7 668.94 L215.44 638.48 L218.94 627.74 L222.68 623.5 L226.43 627.24 L229.93 633.48 L233.67 627.24 L237.17 637.73 L240.91 634.73 L244.41 630.49 L248.15 640.97 L251.65 647.22 L255.39 640.47 L258.89 640.97 L262.63 644.72 L266.13 659.7 L269.88 660.95 L273.37 646.72 L277.12 655.21 L280.61 653.46 L284.36 656.45 L287.85 668.94 L291.6 655.96 L295.09 668.44 L298.84 666.69 L302.33 670.94 L306.08 669.19 L309.58 672.68 L313.32 667.19 L316.82 672.18 L320.56 670.94 L324.06 675.18 L327.8 673.93 L331.3 679.68 L335.04 682.17 L338.54 682.92 L343.53 684.67" stroke="#000" stroke-width="1.5" stroke-linejoin="miter"/>
<path d="M345.53 85.39 L349.03 91.89 L356.02 89.39 L363.51 97.38 L367.25 96.13 L371 99.88 L374 99.48 L381.49 103.72 L387.73 109.96 L392.73 109.96 L398.97 114.96 L403.96 114.46 L411.45 123.7 L415.2 122.95 L420.19 125.44 L425.19 126.19 L430.18 131.69 L433.93 129.94 L439.42 133.68 L445.16 138.68 L451.4 144.17 L457.65 146.17 L466.38 151.66 L476.37 155.66 L486.36 162.4 L493.85 166.14 L498.84 169.89 L508.83 175.38 L518.82 181.62 L528.81 186.87 L538.79 192.86 L548.78 198.6 L558.77 204.84 L568.76 210.59 L578 215.58 L587.99 221.19 L597.98 228.68 L607.96 234.42 L617.95 241.66 L627.94 247.9 L637.93 254.89 L647.91 260.64 L657.9 264.88 L665.39 267.88 L674.13 272.87 L682.87 278.61 L692.86 285.36 L702.84 291.1 L712.83 298.59 L722.82 304.83 L727.86 307.43 L737 312.94 L742.88 315.39 L748.75 318.32 L754.63 323.71 L761.97 328.12 L769.31 330.56 L772.74 329.09 L776.66 331.05 L780.08 337.42 L787.92 343.29 L794.77 349.66 L801.63 353.57 L809.46 355.04 L812.89 360.92M322.81 169.79 L327.3 173.03 L331.55 169.29 L336.04 174.78 L339.79 178.03 L343.53 178.53 L347.28 182.77 L352.27 181.77 L356.02 184.77 L359.76 187.77 L363.51 190.26 L367.25 189.01 L371 192.76 L374 193.61 L380.24 196.1 L385.24 196.85 L390.23 202.35 L395.22 202.35 L400.22 204.84 L406.46 206.59 L411.45 209.34 L416.45 214.83 L422.69 216.83 L430.18 221.07 L435.17 222.32 L442.66 226.57 L451.4 231.56 L461.39 236.05 L471.38 241.05 L478.87 245.29 L486.36 248.54 L493.85 252.78 L503.84 257.28 L513.83 263.02 L523.81 269.26 L533.8 276 L543.79 282.75 L553.78 288.49 L563.76 295.23 L578 303.97 L587.99 311.07 L597.98 317.32 L607.96 324.81 L617.95 331.05 L627.94 337.79 L637.93 344.28 L647.91 349.78 L652.95 353.62 L662.94 361.11 L672.93 367.35 L682.91 372.85 L692.9 379.84 L702.89 386.08 L712.88 390.57 L720.37 391.07 L725.36 394.82 L732.85 402.31 L737 405.39 L740.92 409.79 L745.81 412.73 L750.71 414.2 L754.63 412.73 L759.52 414.69 L766.38 418.6 L772.25 424.48 L778.13 429.38 L783.02 435.74 L789.88 438.68 L795.75 441.62 L801.63 444.06 L804.56 448.96 L808.48 452.88 L812.89 455.03M402.71 295.23 L407.71 297.73 L411.45 294.73 L415.2 301.72 L418.94 299.23 L425.19 301.47 L432.68 302.22 L436.42 308.46 L440.17 310.96 L445.16 307.72 L450.15 312.21 L453.9 317.2 L458.14 313.96 L463.89 318.45 L473.88 323.45 L483.86 330.44 L491.35 333.43 L501.34 338.43 L506.33 344.17 L515.07 345.17 L523.81 352.16 L533.8 357.15 L543.79 362.15 L551.28 368.66 L558.77 372.41 L566.26 374.41 L572.5 379.9 L578 380.65 L585.49 384.73 L592.98 388.48 L600.47 390.97 L607.96 395.97 L615.45 398.46 L627.94 405.21 L640.42 411.7 L647.91 417.19 L657.9 422.18 L667.89 429.68 L677.88 435.92 L687.86 442.16 L697.85 448.4 L707.84 454.64 L712.88 457.24 L720.37 458.49 L726.61 460.99 L732.85 465.98 L740.34 475.97 L743.85 480 L748.75 485.88 L754.63 491.26 L760.5 496.16 L765.4 502.52 L770.29 506.93 L774.21 510.84 L779.11 513.78 L784 517.7 L789.88 520.15 L795.75 524.06 L800.65 528.96 L805.54 533.37 L809.46 537.77 L812.89 543.45M367.25 366.79 L371 371.04 L374 372.28 L381.49 377.4 L388.98 376.15 L392.73 381.15 L396.47 381.9 L402.71 386.89 L407.71 386.14 L415.2 391.89 L421.44 394.13 L425.19 399.88 L430.18 400.37 L433.93 402.37 L438.92 403.62 L446.41 408.61 L451.4 411.86 L457.65 414.36 L463.89 419.35 L467.63 420.35 L473.88 423.1 L481.37 426.09 L487.61 431.59 L493.85 434.33 L501.34 437.83 L506.33 441.82 L513.83 444.32 L521.32 448.56 L531.3 454.81 L543.79 459.05 L551.28 463.55 L558.77 466.79 L566.26 471.79 L578 478.53 L587.99 484.89 L597.98 491.14 L607.96 496.13 L617.95 502.87 L627.94 508.61 L635.43 511.11 L642.92 514.86 L650.41 521.1 L657.9 527.34 L665.39 533.58 L672.88 539.33 L680.37 543.57 L687.86 549.81 L695.35 554.31 L700.35 557.3 L705.34 564.04 L712.83 572.28 L720.32 578.53 L727.81 581.77 L734.05 583.52 L740.3 584.27 L747.79 586.77 L749.73 590 L755.6 596.85 L760.5 604.69 L765.4 610.07 L770.29 614.48 L776.17 619.38 L781.06 621.82 L784 624.76 L786.94 629.17 L791.83 632.59 L796.73 637 L800.65 642.88 L804.56 647.77 L809.46 651.69 L811.42 655.61 L812.89 657.56M322.81 414.73 L327.3 416.73 L331.55 417.23 L334.79 414.73 L338.54 417.73 L342.28 422.22 L346.03 417.73 L349.78 421.72 L353.52 425.97 L357.27 426.47 L361.01 425.97 L364.76 429.71 L368.5 433.96 L371 432.21 L374 433.96 L380.24 436.08 L385.24 437.33 L390.23 441.07 L392.73 444.32 L396.47 444.32 L400.22 449.31 L406.46 451.56 L413.95 452.81 L418.94 459.05 L426.43 462.8 L431.43 466.79 L438.92 470.54 L446.41 474.78 L451.4 477.28 L457.65 477.78 L463.89 482.77 L470.13 486.02 L476.37 489.76 L482.61 491.76 L493.85 498.5 L508.83 505.99 L523.81 513.48 L533.8 519.73 L543.79 523.97 L555.02 529.71 L563.76 535.21 L578 542.7 L587.99 548.56 L597.98 554.81 L607.96 560.55 L617.95 566.79 L627.94 572.78 L637.93 578.53 L647.91 582.77 L655.4 586.77 L662.89 591.01 L670.38 598.5 L677.88 604.74 L687.86 611.49 L697.85 619.23 L707.84 625.97 L717.83 632.21 L725.32 638.45 L732.81 643.45 L740.3 647.69 L742.88 650 L748.75 654.9 L755.6 658.81 L760.5 663.71 L765.4 667.63 L770.29 669.58 L774.21 673.99 L779.11 677.91 L784 681.33 L787.92 683.29 L791.35 681.82 L794.77 684.76 L797.71 689.17 L801.63 693.57 L805.54 697.98 L808.48 702.88 L812.89 709.24M329.8 505.39 L334.79 512.88 L339.79 514.38 L344.78 517.38 L349.78 516.13 L354.77 521.87 L359.76 520.37 L364.76 523.62 L369.75 526.87 L374 529.36 L378.99 529.49 L385.24 535.73 L391.48 534.98 L397.72 540.47 L403.96 544.22 L410.2 544.47 L415.2 547.97 L420.19 550.46 L425.19 555.71 L428.93 553.71 L435.17 558.7 L441.42 562.45 L446.41 564.19 L453.9 568.19 L461.39 571.69 L468.88 575.43 L473.88 577.43 L480.12 581.67 L486.36 583.67 L492.6 588.16 L503.84 594.16 L513.83 599.9 L523.81 605.39 L533.8 611.14 L543.79 616.13 L553.78 622.37 L563.76 629.11 L578 637.35 L587.99 643.75 L597.98 649.99 L607.96 656.98 L617.95 663.72 L627.94 670.46 L637.93 677.45 L647.91 684.94 L657.9 691.69 L667.89 698.68 L677.88 706.92 L687.86 713.66 L697.85 719.9 L705.34 724.89 L710.33 727.39 L714.08 732.38 L720.32 738.13 L727.81 743.62 L735.3 747.37 L737 748.32 L740.92 749.79 L744.83 754.69 L749.73 761.54 L754.63 763.99 L760.5 766.44 L766.38 770.35 L771.27 775.25 L776.17 777.21 L781.06 781.13 L785.96 784.06 L790.86 788.47 L794.77 791.9 L798.69 793.86 L802.61 792.88 L806.52 794.35 L809.46 799.24 L812.89 803.16M359.26 593.78 L363.76 590.04 L367.5 598.28 L371 596.03 L374 600.27 L382.74 602.4 L388.98 600.4 L392.73 606.14 L398.97 609.89 L403.96 611.89 L407.71 618.13 L413.95 616.13 L418.94 622.37 L422.69 621.12 L427.68 625.37 L432.68 629.36 L437.67 628.11 L445.16 633.61 L451.4 634.86 L457.65 641.6 L461.39 640.6 L467.63 644.09 L473.88 647.84 L480.12 649.84 L485.11 651.09 L491.35 655.58 L498.84 659.83 L503.84 663.57 L508.83 664.32 L513.83 668.56 L520.07 670.56 L526.31 675.31 L533.8 679.05 L543.79 684.04 L553.78 689.04 L563.76 694.78 L578 704.77 L587.99 711.16 L597.98 717.9 L607.96 724.39 L617.95 731.14 L627.94 737.88 L637.93 745.37 L647.91 753.61 L657.9 761.1 L667.89 768.59 L677.88 774.83 L687.86 782.82 L697.85 791.06 L707.84 798.55 L717.83 806.04 L725.32 811.04 L732.81 816.03 L742.79 824.77 L747.77 830 L756.58 838.81 L765.4 848.12 L773.23 856.44 L776.17 858.4 L779.59 859.38 L783.02 863.29 L786.94 868.19 L791.83 872.11 L796.73 877 L801.63 881.9 L806.52 886.3 L812.89 892.37M343.53 685.92 L348.53 688.41 L352.27 685.92 L357.27 692.16 L362.26 695.91 L367.25 692.66 L371 702.15 L374 703.4 L378.49 698.53 L382.74 701.52 L385.24 701.02 L388.98 704.27 L393.98 706.02 L398.97 707.27 L402.71 711.01 L406.46 712.26 L411.45 717.25 L417.7 718.5 L422.69 718.5 L427.68 722.75 L432.68 724 L436.42 727.74 L441.42 727.24 L448.91 733.48 L456.4 734.73 L461.39 738.98 L468.88 740.97 L473.88 743.97 L481.37 746.72 L487.61 751.71 L493.85 754.71 L501.34 756.7 L507.58 762.2 L512.58 762.95 L518.82 766.69 L523.81 770.44 L530.05 772.18 L536.3 776.68 L543.79 780.17 L550.03 785.17 L558.77 789.66 L566.26 795.41 L578 802.9 L587.99 809.79 L597.98 816.03 L607.96 822.27 L617.95 828.51 L627.94 836 L637.93 843.5 L647.91 851.74 L657.9 858.98 L667.89 865.97 L677.88 873.46 L687.86 881.45 L697.85 888.94 L707.84 897.18 L717.83 904.17 L725.32 909.16 L732.81 915.91 L737 920.98 L741.9 923.92 L746.79 925.88 L751.69 925.88 L755.12 925.88 L757.56 931.75 L762.46 936.65 L766.38 942.03 L771.27 946.93 L776.17 951.33 L781.06 956.23 L785.96 959.17 L790.86 959.17 L794.77 958.68 L798.69 962.11 L801.63 967.98 L805.54 973.86 L809.46 976.79 L812.89 982.18" stroke="#ff00ff" stroke-width="4.5"/>
</g>
<path d="M136.09 6.6 L138.52 5.4 L142.17 1.8 L142.17 27M77.89 89.18 L80.32 87.98 L83.96 84.38 L83.96 109.58M105.83 84.38 L102.19 85.58 L99.76 89.18 L98.54 95.18 L98.54 98.78 L99.76 104.78 L102.19 108.38 L105.83 109.58 L108.26 109.58 L111.91 108.38 L114.34 104.78 L115.55 98.78 L115.55 95.18 L114.34 89.18 L111.91 85.58 L108.26 84.38 L105.83 84.38M122.84 82.4 L139.25 82.4M148.36 75.2 L150.18 74.3 L152.92 71.59 L152.92 90.5M77.89 171.85 L80.32 170.65 L83.96 167.05 L83.96 192.25M105.83 167.05 L102.19 168.25 L99.76 171.85 L98.54 177.85 L98.54 181.45 L99.76 187.45 L102.19 191.05 L105.83 192.25 L108.26 192.25 L111.91 191.05 L114.34 187.45 L115.55 181.45 L115.55 177.85 L114.34 171.85 L111.91 168.25 L108.26 167.05 L105.83 167.05M122.84 165.07 L139.25 165.07M146.54 158.77 L146.54 157.87 L147.45 156.07 L148.36 155.17 L150.18 154.27 L153.83 154.27 L155.65 155.17 L156.56 156.07 L157.47 157.87 L157.47 159.67 L156.56 161.47 L154.74 164.17 L145.63 173.17 L158.38 173.17M77.89 254.52 L80.32 253.32 L83.96 249.72 L83.96 274.92M105.83 249.72 L102.19 250.92 L99.76 254.52 L98.54 260.52 L98.54 264.12 L99.76 270.12 L102.19 273.72 L105.83 274.92 L108.26 274.92 L111.91 273.72 L114.34 270.12 L115.55 264.12 L115.55 260.52 L114.34 254.52 L111.91 250.92 L108.26 249.72 L105.83 249.72M122.84 247.74 L139.25 247.74M147.45 236.94 L157.47 236.94 L152 244.14 L154.74 244.14 L156.56 245.04 L157.47 245.94 L158.38 248.64 L158.38 250.44 L157.47 253.14 L155.65 254.94 L152.92 255.84 L150.18 255.84 L147.45 254.94 L146.54 254.04 L145.63 252.24M77.89 337.2 L80.32 336 L83.96 332.4 L83.96 357.6M105.83 332.4 L102.19 333.6 L99.76 337.2 L98.54 343.2 L98.54 346.8 L99.76 352.8 L102.19 356.4 L105.83 357.6 L108.26 357.6 L111.91 356.4 L114.34 352.8 L115.55 346.8 L115.55 343.2 L114.34 337.2 L111.91 333.6 L108.26 332.4 L105.83 332.4M122.84 330.42 L139.25 330.42M154.74 319.62 L145.63 332.22 L159.29 332.22M154.74 319.62 L154.74 338.52M77.89 419.88 L80.32 418.67 L83.96 415.07 L83.96 440.27M105.83 415.07 L102.19 416.27 L99.76 419.88 L98.54 425.88 L98.54 429.47 L99.76 435.47 L102.19 439.07 L105.83 440.27 L108.26 440.27 L111.91 439.07 L114.34 435.47 L115.55 429.47 L115.55 425.88 L114.34 419.88 L111.91 416.27 L108.26 415.07 L105.83 415.07M122.84 413.09 L139.25 413.09M156.56 402.3 L147.45 402.3 L146.54 410.39 L147.45 409.5 L150.18 408.59 L152.92 408.59 L155.65 409.5 L157.47 411.3 L158.38 414 L158.38 415.8 L157.47 418.5 L155.65 420.3 L152.92 421.19 L150.18 421.19 L147.45 420.3 L146.54 419.39 L145.63 417.59M77.89 502.55 L80.32 501.35 L83.96 497.75 L83.96 522.95M105.83 497.75 L102.19 498.95 L99.76 502.55 L98.54 508.55 L98.54 512.15 L99.76 518.15 L102.19 521.75 L105.83 522.95 L108.26 522.95 L111.91 521.75 L114.34 518.15 L115.55 512.15 L115.55 508.55 L114.34 502.55 L111.91 498.95 L108.26 497.75 L105.83 497.75M122.84 495.77 L139.25 495.77M157.47 487.67 L156.56 485.87 L153.83 484.97 L152 484.97 L149.27 485.87 L147.45 488.57 L146.54 493.07 L146.54 497.57 L147.45 501.17 L149.27 502.97 L152 503.87 L152.92 503.87 L155.65 502.97 L157.47 501.17 L158.38 498.47 L158.38 497.57 L157.47 494.87 L155.65 493.07 L152.92 492.17 L152 492.17 L149.27 493.07 L147.45 494.87 L146.54 497.57M77.89 585.23 L80.32 584.03 L83.96 580.43 L83.96 605.63M105.83 580.43 L102.19 581.63 L99.76 585.23 L98.54 591.23 L98.54 594.83 L99.76 600.83 L102.19 604.43 L105.83 605.63 L108.26 605.63 L111.91 604.43 L114.34 600.83 L115.55 594.83 L115.55 591.23 L114.34 585.23 L111.91 581.63 L108.26 580.43 L105.83 580.43M122.84 578.45 L139.25 578.45M158.38 567.65 L149.27 586.55M145.63 567.65 L158.38 567.65M77.89 667.9 L80.32 666.7 L83.96 663.1 L83.96 688.3M105.83 663.1 L102.19 664.3 L99.76 667.9 L98.54 673.9 L98.54 677.5 L99.76 683.5 L102.19 687.1 L105.83 688.3 L108.26 688.3 L111.91 687.1 L114.34 683.5 L115.55 677.5 L115.55 673.9 L114.34 667.9 L111.91 664.3 L108.26 663.1 L105.83 663.1M122.84 661.12 L139.25 661.12M150.18 650.32 L147.45 651.22 L146.54 653.02 L146.54 654.82 L147.45 656.62 L149.27 657.52 L152.92 658.42 L155.65 659.32 L157.47 661.12 L158.38 662.92 L158.38 665.62 L157.47 667.42 L156.56 668.32 L153.83 669.22 L150.18 669.22 L147.45 668.32 L146.54 667.42 L145.63 665.62 L145.63 662.92 L146.54 661.12 L148.36 659.32 L151.09 658.42 L154.74 657.52 L156.56 656.62 L157.47 654.82 L157.47 653.02 L156.56 651.22 L153.83 650.32 L150.18 650.32M77.89 750.58 L80.32 749.38 L83.96 745.77 L83.96 770.98M105.83 745.77 L102.19 746.98 L99.76 750.58 L98.54 756.58 L98.54 760.18 L99.76 766.18 L102.19 769.77 L105.83 770.98 L108.26 770.98 L111.91 769.77 L114.34 766.18 L115.55 760.18 L115.55 756.58 L114.34 750.58 L111.91 746.98 L108.26 745.77 L105.83 745.77M122.84 743.79 L139.25 743.79M157.47 739.29 L156.56 742 L154.74 743.79 L152 744.69 L151.09 744.69 L148.36 743.79 L146.54 742 L145.63 739.29 L145.63 738.39 L146.54 735.69 L148.36 733.89 L151.09 733 L152 733 L154.74 733.89 L156.56 735.69 L157.47 739.29 L157.47 743.79 L156.56 748.29 L154.74 751 L152 751.89 L150.18 751.89 L147.45 751 L146.54 749.19M63.69 833.25 L66.12 832.05 L69.77 828.45 L69.77 853.65M91.64 828.45 L87.99 829.65 L85.56 833.25 L84.34 839.25 L84.34 842.85 L85.56 848.85 L87.99 852.45 L91.64 853.65 L94.06 853.65 L97.71 852.45 L100.14 848.85 L101.36 842.85 L101.36 839.25 L100.14 833.25 L97.71 829.65 L94.06 828.45 L91.64 828.45M108.64 826.47 L125.05 826.47M134.16 819.27 L135.98 818.37 L138.72 815.67 L138.72 834.57M155.12 815.67 L152.39 816.57 L150.56 819.27 L149.65 823.77 L149.65 826.47 L150.56 830.97 L152.39 833.67 L155.12 834.57 L156.94 834.57 L159.68 833.67 L161.5 830.97 L162.41 826.47 L162.41 823.77 L161.5 819.27 L159.68 816.57 L156.94 815.67 L155.12 815.67M63.69 915.93 L66.12 914.73 L69.77 911.12 L69.77 936.33M91.64 911.12 L87.99 912.33 L85.56 915.93 L84.34 921.93 L84.34 925.53 L85.56 931.53 L87.99 935.12 L91.64 936.33 L94.06 936.33 L97.71 935.12 L100.14 931.53 L101.36 925.53 L101.36 921.93 L100.14 915.93 L97.71 912.33 L94.06 911.12 L91.64 911.12M108.64 909.14 L125.05 909.14M134.16 901.95 L135.98 901.04 L138.72 898.35 L138.72 917.25M152.39 901.95 L154.21 901.04 L156.94 898.35 L156.94 917.25M63.69 998.6 L66.12 997.4 L69.77 993.8 L69.77 1019M91.64 993.8 L87.99 995 L85.56 998.6 L84.34 1004.6 L84.34 1008.2 L85.56 1014.2 L87.99 1017.8 L91.64 1019 L94.06 1019 L97.71 1017.8 L100.14 1014.2 L101.36 1008.2 L101.36 1004.6 L100.14 998.6 L97.71 995 L94.06 993.8 L91.64 993.8M108.64 991.82 L125.05 991.82M134.16 984.62 L135.98 983.72 L138.72 981.02 L138.72 999.92M150.56 985.52 L150.56 984.62 L151.47 982.82 L152.39 981.92 L154.21 981.02 L157.85 981.02 L159.68 981.92 L160.59 982.82 L161.5 984.62 L161.5 986.42 L160.59 988.22 L158.76 990.92 L149.65 999.92 L162.41 999.92M146.99 1033.3 L149.42 1032.1 L153.06 1028.5 L153.06 1053.7M174.94 1028.5 L171.29 1029.7 L168.86 1033.3 L167.65 1039.3 L167.65 1042.9 L168.86 1048.9 L171.29 1052.5 L174.94 1053.7 L177.37 1053.7 L181.01 1052.5 L183.44 1048.9 L184.66 1042.9 L184.66 1039.3 L183.44 1033.3 L181.01 1029.7 L177.37 1028.5 L174.94 1028.5M191.94 1026.52 L208.35 1026.52M216.55 1015.72 L226.57 1015.72 L221.11 1022.92 L223.84 1022.92 L225.66 1023.82 L226.57 1024.72 L227.48 1027.42 L227.48 1029.22 L226.57 1031.92 L224.75 1033.72 L222.02 1034.62 L219.28 1034.62 L216.55 1033.72 L215.64 1032.82 L214.73 1031.02M359.54 1028.5 L355.89 1029.7 L353.46 1033.3 L352.25 1039.3 L352.25 1042.9 L353.46 1048.9 L355.89 1052.5 L359.54 1053.7 L361.97 1053.7 L365.61 1052.5 L368.04 1048.9 L369.25 1042.9 L369.25 1039.3 L368.04 1033.3 L365.61 1029.7 L361.97 1028.5 L359.54 1028.5M378.98 1051.3 L377.76 1052.5 L378.98 1053.7 L380.19 1052.5 L378.98 1051.3M395.99 1028.5 L392.34 1029.7 L389.91 1033.3 L388.69 1039.3 L388.69 1042.9 L389.91 1048.9 L392.34 1052.5 L395.99 1053.7 L398.42 1053.7 L402.06 1052.5 L404.49 1048.9 L405.71 1042.9 L405.71 1039.3 L404.49 1033.3 L402.06 1029.7 L398.42 1028.5 L395.99 1028.5M416.64 1033.3 L419.07 1032.1 L422.72 1028.5 L422.72 1053.7M583.03 1028.5 L579.39 1029.7 L576.96 1033.3 L575.75 1039.3 L575.75 1042.9 L576.96 1048.9 L579.39 1052.5 L583.03 1053.7 L585.47 1053.7 L589.11 1052.5 L591.54 1048.9 L592.75 1042.9 L592.75 1039.3 L591.54 1033.3 L589.11 1029.7 L585.47 1028.5 L583.03 1028.5M602.48 1051.3 L601.26 1052.5 L602.48 1053.7 L603.69 1052.5 L602.48 1051.3M615.84 1033.3 L618.27 1032.1 L621.92 1028.5 L621.92 1053.7M806.59 1033.3 L809.02 1032.1 L812.66 1028.5 L812.66 1053.7M439.6 1116.1 L439.6 1132.9M439.6 1123.3 L440.82 1119.7 L443.27 1117.3 L445.72 1116.1 L449.4 1116.1M464.1 1102.9 L461.65 1105.3 L459.2 1108.9 L456.75 1113.7 L455.52 1119.7 L455.52 1124.5 L456.75 1130.5 L459.2 1135.3 L461.65 1138.9 L464.1 1141.3M472.67 1107.7 L472.67 1132.9M472.67 1107.7 L482.47 1132.9M492.27 1107.7 L482.47 1132.9M492.27 1107.7 L492.27 1132.9M502.07 1116.1 L502.07 1141.3M502.07 1119.7 L504.53 1117.3 L506.98 1116.1 L510.65 1116.1 L513.1 1117.3 L515.55 1119.7 L516.77 1123.3 L516.77 1125.7 L515.55 1129.3 L513.1 1131.7 L510.65 1132.9 L506.98 1132.9 L504.53 1131.7 L502.07 1129.3M538.83 1119.7 L536.38 1117.3 L533.93 1116.1 L530.25 1116.1 L527.8 1117.3 L525.35 1119.7 L524.12 1123.3 L524.12 1125.7 L525.35 1129.3 L527.8 1131.7 L530.25 1132.9 L533.93 1132.9 L536.38 1131.7 L538.83 1129.3M546.17 1102.9 L548.62 1105.3 L551.08 1108.9 L553.52 1113.7 L554.75 1119.7 L554.75 1124.5 L553.52 1130.5 L551.08 1135.3 L548.62 1138.9 L546.17 1141.3" fill="none" stroke="#000" stroke-width="1.55" stroke-linecap="round" stroke-linejoin="round"/>
<path d="M50.63 603.57 L40.79 600.89 L35.08 599.19 L32.89 598.71 L30.7 598.5 L28.63 597.88 L26.83 596.9 L25.41 595.62 L24.46 594.1 L24.05 592.46 L24.18 590.8 L24.85 589.2 L26.04 587.78 L27.65 586.63 L29.59 585.83 L31.74 585.4 L33.95 585.39 L36.11 585.79 L38.06 586.59 L39.69 587.72 L40.89 589.13 L41.59 590.72 L41.75 592.39 L41.35 594.03 L40.43 595.55 L39.03 596.85 L37.24 597.84 L35.19 598.48M11.02 568.63 L13.45 571.07 L17.1 573.5 L21.96 575.92 L28.03 577.14 L32.89 577.14 L38.97 575.92 L43.83 573.5 L47.48 571.07 L49.91 568.63M15.88 560.13 L41.4 560.13M15.88 560.13 L41.4 550.41M15.88 540.69 L41.4 550.41M15.88 540.69 L41.4 540.69M42.61 528.85 L43.59 530.8 L45.53 532.74 L48.45 533.71 L50.39 533.71 L53.31 532.74 L55.25 530.8 L56.22 528.85 L56.22 525.94 L55.25 523.99 L53.31 522.05 L50.39 521.08 L48.45 521.08 L45.53 522.05 L43.59 523.99 L42.61 525.94 L42.61 528.85M11.02 493.86 L49.91 515.73M24.39 486.57 L49.91 486.57M28.03 486.57 L25.6 484.14 L24.39 481.71 L24.39 478.07 L25.6 475.64 L28.03 473.21 L31.68 471.99 L34.11 471.99 L37.75 473.21 L40.18 475.64 L41.4 478.07 L41.4 481.71 L40.18 484.14 L37.75 486.57M28.03 450.12 L25.6 452.55 L24.39 454.98 L24.39 458.63 L25.6 461.06 L28.03 463.49 L31.68 464.7 L34.11 464.7 L37.75 463.49 L40.18 461.06 L41.4 458.63 L41.4 454.98 L40.18 452.55 L37.75 450.12M2.95 441.92 L2.95 431.9 L10.24 437.36 L10.24 434.63 L11.15 432.81 L12.06 431.9 L14.79 430.99 L16.61 430.99 L19.35 431.9 L21.17 433.72 L22.08 436.45 L22.08 439.19 L21.17 441.92 L20.26 442.83 L18.44 443.74M11.02 424.61 L13.45 422.18 L17.1 419.75 L21.96 417.32 L28.03 416.1 L32.89 416.1 L38.97 417.32 L43.83 419.75 L47.48 422.18 L49.91 424.61" fill="none" stroke="#000" stroke-width="1.75" stroke-linecap="round" stroke-linejoin="round"/>
<path d="M686.9 241.14 L684.48 238.7 L680.83 237.48 L675.97 237.48 L672.33 238.7 L669.89 241.14 L669.89 243.58 L671.11 246.02 L672.33 247.24 L674.75 248.46 L682.04 250.9 L684.48 252.12 L685.69 253.34 L686.9 255.78 L686.9 259.44 L684.48 261.88 L680.83 263.1 L675.97 263.1 L672.33 261.88 L669.89 259.44M697.84 242.36 L700.27 241.14 L703.91 237.48 L703.91 263.1M686.9 332.64 L684.48 330.2 L680.83 328.98 L675.97 328.98 L672.33 330.2 L669.89 332.64 L669.89 335.08 L671.11 337.52 L672.33 338.74 L674.75 339.96 L682.04 342.4 L684.48 343.62 L685.69 344.84 L686.9 347.28 L686.9 350.94 L684.48 353.38 L680.83 354.6 L675.97 354.6 L672.33 353.38 L669.89 350.94M695.41 335.08 L695.41 333.86 L696.62 331.42 L697.84 330.2 L700.27 328.98 L705.13 328.98 L707.56 330.2 L708.77 331.42 L709.99 333.86 L709.99 336.3 L708.77 338.74 L706.34 342.4 L694.19 354.6 L711.2 354.6M686.9 406.24 L684.48 403.8 L680.83 402.58 L675.97 402.58 L672.33 403.8 L669.89 406.24 L669.89 408.68 L671.11 411.12 L672.33 412.34 L674.75 413.56 L682.04 416 L684.48 417.22 L685.69 418.44 L686.9 420.88 L686.9 424.54 L684.48 426.98 L680.83 428.2 L675.97 428.2 L672.33 426.98 L669.89 424.54M696.62 402.58 L709.99 402.58 L702.7 412.34 L706.34 412.34 L708.77 413.56 L709.99 414.78 L711.2 418.44 L711.2 420.88 L709.99 424.54 L707.56 426.98 L703.91 428.2 L700.27 428.2 L696.62 426.98 L695.41 425.76 L694.19 423.32M686.9 505.44 L684.48 503 L680.83 501.78 L675.97 501.78 L672.33 503 L669.89 505.44 L669.89 507.88 L671.11 510.32 L672.33 511.54 L674.75 512.76 L682.04 515.2 L684.48 516.42 L685.69 517.64 L686.9 520.08 L686.9 523.74 L684.48 526.18 L680.83 527.4 L675.97 527.4 L672.33 526.18 L669.89 523.74M706.34 501.78 L694.19 518.86 L712.42 518.86M706.34 501.78 L706.34 527.4M682.76 576.18 L682.76 601.8M682.76 601.8 L697.34 601.8M705.84 581.06 L708.27 579.84 L711.92 576.18 L711.92 601.8M682.76 667.28 L682.76 692.9M682.76 692.9 L697.34 692.9M703.41 673.38 L703.41 672.16 L704.63 669.72 L705.84 668.5 L708.27 667.28 L713.13 667.28 L715.56 668.5 L716.78 669.72 L718 672.16 L718 674.6 L716.78 677.04 L714.35 680.7 L702.2 692.9 L719.21 692.9M682.76 749.58 L682.76 775.2M682.76 775.2 L697.34 775.2M704.63 749.58 L718 749.58 L710.7 759.34 L714.35 759.34 L716.78 760.56 L718 761.78 L719.21 765.44 L719.21 767.88 L718 771.54 L715.56 773.98 L711.92 775.2 L708.27 775.2 L704.63 773.98 L703.41 772.76 L702.2 770.32M682.76 832.18 L682.76 857.8M682.76 857.8 L697.34 857.8M714.35 832.18 L702.2 849.26 L720.42 849.26M714.35 832.18 L714.35 857.8" fill="none" stroke="#0000ff" stroke-width="1.5" stroke-linecap="round" stroke-linejoin="round"/>
</svg></body></html>
